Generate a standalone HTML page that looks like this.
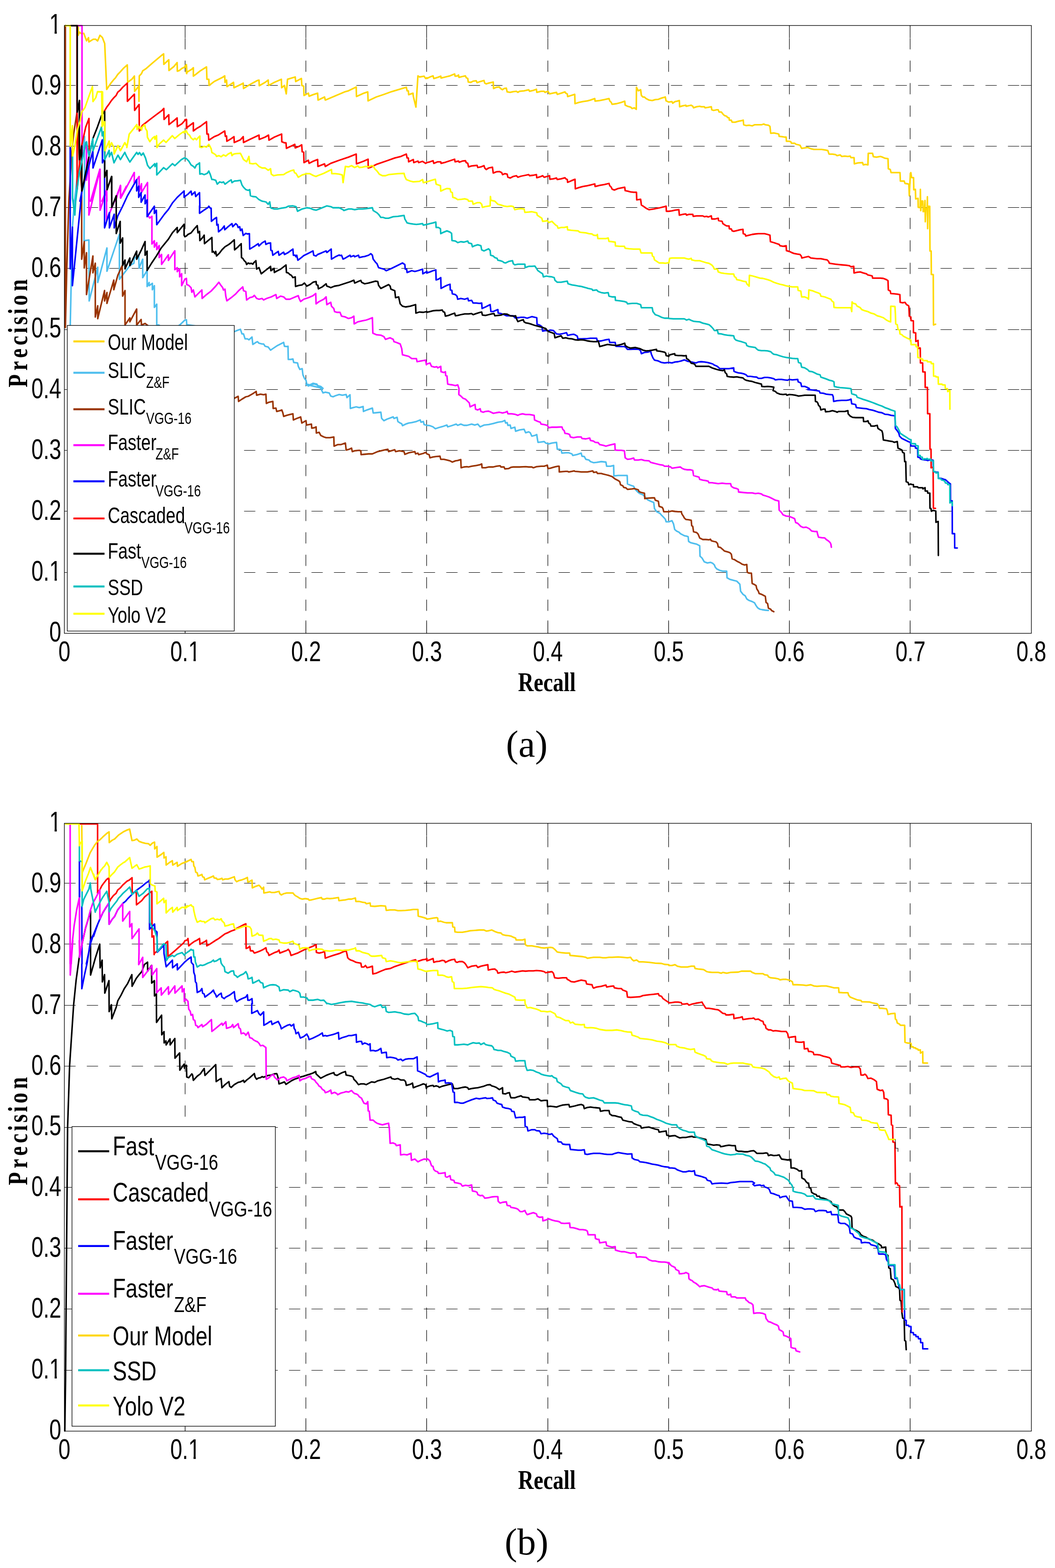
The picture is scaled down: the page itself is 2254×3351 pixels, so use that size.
<!DOCTYPE html>
<html><head><meta charset="utf-8"><title>Precision-Recall curves</title><style>html,body{margin:0;padding:0;background:#fff;}svg{display:block;}</style></head><body>
<svg xmlns="http://www.w3.org/2000/svg" width="2254" height="3351" viewBox="0 0 2254 3351">
<rect width="2254" height="3351" fill="#fff"/>
<defs><clipPath id="k1" clipPathUnits="userSpaceOnUse"><rect x="-500" y="-500" width="1000" height="495.1"/><rect x="15.1" y="-5.4" width="6.2" height="60"/><rect x="-500" y="-5.4" width="501.8" height="60"/></clipPath><clipPath id="k01" clipPathUnits="userSpaceOnUse"><rect x="-500" y="-500" width="1000" height="495.1"/><rect x="66.4" y="-5.4" width="6.2" height="60"/><rect x="-500" y="-5.4" width="553.1" height="60"/></clipPath></defs>
<path d="M395.5 1353.5V54.5M653.5 1353.5V54.5M911.5 1353.5V54.5M1170.5 1353.5V54.5M1428.5 1353.5V54.5M1686.5 1353.5V54.5M1944.5 1353.5V54.5" stroke="#000" stroke-width="1.15" stroke-dasharray="24 24" fill="none"/>
<path d="M137.5 1223.5H2203.5M137.5 1092.5H2203.5M137.5 962.5H2203.5M137.5 832.5H2203.5M137.5 704.5H2203.5M137.5 573.5H2203.5M137.5 443.5H2203.5M137.5 312.5H2203.5M137.5 182.5H2203.5" stroke="#000" stroke-width="1.15" stroke-dasharray="24 24" fill="none"/>
<path d="M395.5 1353.5v-27.5M395.5 54.5v26.5M653.5 1353.5v-27.5M653.5 54.5v26.5M911.5 1353.5v-27.5M911.5 54.5v26.5M1170.5 1353.5v-27.5M1170.5 54.5v26.5M1428.5 1353.5v-27.5M1428.5 54.5v26.5M1686.5 1353.5v-27.5M1686.5 54.5v26.5M1944.5 1353.5v-27.5M1944.5 54.5v26.5M137.5 1223.5h21M2203.5 1223.5h-22.5M137.5 1092.5h21M2203.5 1092.5h-22.5M137.5 962.5h21M2203.5 962.5h-22.5M137.5 832.5h21M2203.5 832.5h-22.5M137.5 704.5h21M2203.5 704.5h-22.5M137.5 573.5h21M2203.5 573.5h-22.5M137.5 443.5h21M2203.5 443.5h-22.5M137.5 312.5h21M2203.5 312.5h-22.5M137.5 182.5h21M2203.5 182.5h-22.5" stroke="#000" stroke-width="1.15" fill="none"/>
<clipPath id="c0"><rect x="135.5" y="51.5" width="2070.0" height="1304.0"/></clipPath>
<g clip-path="url(#c0)">
<path d="M395 141.4L398.3 138.1L398.3 156.2L401.6 152.9L409.8 148L413.1 144.7L413.1 162.8L419.7 157.9L428 151.3L441.2 143L442.1 169.4L446.1 169.4L446.8 182.6L457.6 174.3L474.1 166.1L480.1 162.1L480.7 176L484 171.1L485 185.2L493.9 179.3L498.9 176L499.9 187.5L517 179.3L519.6 177.6L520.3 189.2L533.5 180.9L550 172L553.3 171.1L553.9 183.2L566.5 176L573 171.1L573.7 182.6L586.2 176L601.1 169.4L601.7 187.5L607.7 182.6L611.6 200.7L614.3 169.4L630.7 164.5L631.7 174.3L643.9 167.8L644.9 182.6L648.9 184.2L649.5 204L658.8 199.1L660.4 205.7L668.7 202.4L678.6 199.1L679.5 213.9L693.4 207.3L695 213.9L706.6 209L737.9 195.8L744.5 194.1L761 185.9L761.6 206.3L777.5 199.1L785.7 196.4L786.4 215.6L803.9 207.3L820.3 201.7L836.8 195.8L856.6 189.8L868.1 186.5L869.8 194.1L872.4 194.1L873.1 202.4L882.3 199.1L883 205.7L888.6 228.8L892.9 162.1L896.2 164.5L906.1 162.8L909.4 167.8L912 166.1L912 167.8L918.6 164.5L925.2 162.1L926.8 167.8L935.1 165.4L941.7 162.8L942.3 166.8L951.6 164.5L961.5 162.1L971.3 157.9L972.3 162.8L977.9 162.1L979.6 160.2L980.6 165.4L987.8 163.5L994.4 162.1L996.1 166.1L999.4 167.8L1000.4 175.3L1006 176L1010.9 173.4L1017.5 172.7L1019.2 176.7L1025.8 174.3L1034 172L1035.6 177.6L1038.9 179.3L1043.9 177.6L1053.8 175.3L1054.4 189.2L1060.4 186.5L1067 185.9L1068.6 188.5L1073.6 191.8L1076.9 189.2L1081.8 188.5L1083.5 196.4L1090 197.4L1096.6 195.8L1103.2 195.1L1106.5 197.4L1109.8 195.1L1119.7 194.1L1129.6 191.8L1131.3 195.1L1139.5 193.1L1146.1 190.8L1146.8 197.4L1156 195.1L1162.6 195.1L1164.2 197.4L1170.8 195.1L1174.1 200.7L1180.7 199.1L1189 197.4L1190.6 201.7L1198.9 199.1L1207.1 196.4L1208.7 199.1L1212 200.7L1212.7 206.3L1220.3 204L1227.9 201.7L1228.5 221.5L1236.8 218.9L1245 217.2L1254.9 215.6L1261.5 213.9L1270.7 210.6L1271.4 216.2L1281.3 214.9L1291.2 212.9L1301.1 210.6L1302.7 215.6L1306 218.9L1307.7 222.8L1317.6 221.5L1327.4 218.9L1334.7 216.2L1335.7 224.8L1340.6 227.1L1347.2 228.8L1350.5 232L1355.5 230.4L1359.4 233.7L1359.8 186.5L1363.7 194.1L1368.7 191.8L1370.3 204L1373.6 207.3L1376.9 207.3L1380.2 210.6L1386.8 213.9L1393.4 214.9L1400 212.9L1406.6 212.3L1413.2 209.6L1421.4 207.3L1423.1 215.6L1429 218.2L1429 218.2L1435.6 217.2L1437.2 220.5L1442.2 217.2L1447.1 216.2L1451.4 214.9L1452.1 228.1L1458.7 226.1L1465.3 224.8L1465.9 227.1L1473.5 225.5L1476.8 224.8L1480.1 227.1L1481.8 230.4L1488.3 228.1L1494.9 227.1L1498.2 228.1L1504.8 228.1L1506.5 230.4L1513.1 229.4L1519.7 228.1L1520.7 234.7L1524.6 236L1531.2 234.7L1534.5 234.7L1536.2 239.3L1541.1 239.3L1544.4 243.6L1547.7 246.9L1552.6 248.5L1554.3 251.2L1557.6 251.8L1558.2 256.8L1562.5 256.8L1564.2 261.1L1570.8 261.1L1577.4 259.1L1584 257.8L1587.9 256.8L1588.9 266.7L1593.9 268.3L1600.5 267.7L1607 269L1612 266.7L1620.2 266.7L1626.8 266.7L1631.8 265L1635.1 266.7L1641.7 267.7L1645 270L1646.6 284.8L1653.2 284.1L1659.8 285.5L1663.8 286.5L1664.7 291.4L1671.3 292.1L1676.3 293L1679.6 293L1680.2 301.9L1686.2 301.9L1689.5 302.9L1691.1 306.2L1697.7 306.2L1701 308.5L1706 309.5L1709.3 310.5L1710.9 313.8L1712.6 317.1L1719.2 316.1L1725.7 315.1L1732.3 317.8L1738.9 319.4L1745.5 319.4L1755.4 319.4L1762 320.4L1768.6 321.7L1771.2 329.3L1778.5 329.3L1785.1 330.3L1788.4 332.6L1795 331L1798.3 334.3L1804.9 333.6L1811.5 334.3L1816.4 333.6L1818.1 336.9L1824.7 336.9L1825.3 350.1L1832.9 348.1L1842.8 347.5L1844.4 352.4L1849.4 351.4L1854.3 352.4L1855 327.7L1864.2 327.7L1865.9 334.9L1872.5 335.9L1880.7 334.3L1885.7 335.9L1890.6 338.2L1897.2 339.2L1897.9 360.6L1902.1 362.3L1903.8 368.9L1910.4 368.9L1917 368.9L1922.9 368.9L1923.6 387L1931.8 387L1933.5 392L1940.1 393L1941.7 393.6L1942.7 418.3L1945 370.5L1946 368.9L1947.7 379.6L1951.8 379.6L1952.3 405.7L1955.7 404.6L1956.4 425.1L1961.4 423.9L1961.8 443.2L1965.9 443.7L1966.4 404.6L1967.1 450.1L1969.3 429.6L1971.6 429.6L1972.3 452.3L1975 451.2L1976.2 428.5L1976.9 473.9L1978.4 445.5L1980.7 445.5L1981.4 420.5L1981.9 488.7L1983 441L1986.4 441L1986.9 536.5L1989.4 536.5L1989.8 586.5L1993.9 586.9L1994.4 694.5L1998.9 692.9M167.1 54.7L167.1 75.4L169.6 68.6L173.9 72L178.9 71.1L184.9 87.2L189.1 80.4L189.9 89.7L199.2 83.8L204.3 83.8L208.5 87.5L213.6 75.4L218.7 80.1L223.7 93.1L228 191.1L236.4 178.4L243.2 170L246.5 166.6L251.6 159L256.7 153.9L263.4 146.3L271.9 138.7L272.7 175.9L282 169.1L287.1 162.4L287.6 195.3L296.4 184.4L296.9 216.5L297.6 162.4L302.3 157.3L304.9 151.4L312.5 146.3L326 134.5L336.1 126.1L346.3 117.6L349.6 115.1L350 137.5L360.6 127.7L361 150.6L371.6 142.1L378.4 133.7L378.9 152.2L383.4 150.6L388.5 146.3L395.3 143L398.6 141.3L399 157.3" stroke="#FFD700" stroke-width="3.3" fill="none" stroke-linejoin="round" stroke-linecap="round"/>
<path d="M395 684L398.3 683.3L399 693.9L500.5 708.7L508.8 705.4L513.7 703.8L517 713.7L520.3 713.7L523.6 724.2L528.5 724.2L531.8 726.2L538.4 720.3L540.1 736.1L546.7 731.8L550 730.2L553.3 733.5L559.9 735.1L563.2 735.1L566.5 740L573 741.7L578 748.3L582.9 745L592.8 738.4L606 731.8L607.7 740L612.6 740.7L615.3 740L615.9 768.1L620.9 768.1L625.8 767.1L627.5 774.7L635.7 775.7L637.3 782.9L640.6 789.5L645.6 787.9L647.2 801L650.5 808.6L653.8 812.6L655.5 820.8L662.1 822.5L668.7 819.2L676.9 820.8L678.6 824.1L685.2 825.8L690.1 830.1L653.8 821.6L658.8 824.9L665.4 821.6L672 820.7L678.6 823.3L680.2 826.6L685.2 829.9L688.5 836.5L690.1 839.8L695 838.1L703.3 839.8L706.6 846.4L711.5 848L716.5 845.7L724.7 843.1L731.3 844.7L739.6 843.1L741.2 849.7L747.8 843.7L748.5 872.8L754.4 871.1L761 869.5L767.6 871.1L775.8 868.8L776.5 879.3L784.1 876.1L795.6 872.1L797.3 882.6L803.9 882L813.7 881L815.4 894.2L820.3 899.1L826.9 895.8L840.1 890.9L841.8 894.2L848.4 891.9L850 900.8L855 904.1L858.3 905.7L859.9 909.7L866.5 906.4L873.1 904.1L879.7 903.1L889.6 900.8L897.8 897.5L899.5 902.4L904.4 900.8L906.1 907.4L912 909L912 909L918.6 909.7L925.2 912.3L930.1 916.3L936.7 914L945 911.7L954.9 908.4L956.5 912.3L964.8 909.7L974.6 906.4L977.9 909L984.5 906.4L991.1 909L997.7 909L1007.6 906.4L1014.2 908.4L1020.8 906.4L1025.8 912.3L1034 908.4L1043.9 907.4L1053.8 905.1L1063.7 902.4L1073.6 900.8L1078.5 898.5L1080.2 904.1L1083.5 903.1L1085.1 909L1090 908.4L1091.7 915.6L1096.6 914L1099.9 913L1101.6 921.6L1109.8 918.9L1119.7 917.3L1123 924.9L1129.6 922.9L1132.9 924.9L1136.2 932.1L1142.8 930.5L1146.8 928.8L1147.7 935.4L1149.4 945.3L1156 944.6L1162.6 943.6L1165.9 946.9L1172.5 948.6L1179.1 946.9L1189 945.3L1190.6 960.1L1195.6 960.1L1198.9 961.8L1200.5 968.4L1208.7 967.7L1215.3 967.7L1221.9 970L1223.6 973.3L1231.8 971.7L1241.7 968.4L1243.4 975L1248.3 975.6L1251.6 981.6L1258.2 983.2L1261.5 986.5L1268.1 988.8L1274.7 988.2L1284.6 986.5L1294.5 987.5L1296.1 996.4L1304.4 996.4L1311 994.8L1311.6 1017.2L1320.9 1016.2L1330.7 1016.2L1340 1016.2L1340.6 1034.3L1347.2 1037L1353.8 1039.3L1357.1 1045.9L1363.7 1052.5L1367 1054.8L1373.6 1057.4L1376.9 1060.7L1383.5 1067.9L1390.1 1071.2L1396.7 1073.9L1398.3 1087.1L1403.3 1093.7L1409.9 1097L1413.2 1100.9L1416.5 1104.2L1421.4 1109.5L1423.1 1115.1L1429 1115.1L1429 1115.1L1435.6 1112.8L1438.9 1119.4L1441.5 1131.6L1445.5 1134.9L1450.4 1137.2L1453.7 1140.5L1458.7 1143.1L1462 1144.8L1466.9 1145.8L1470.2 1147.1L1471.2 1157L1475.2 1159.6L1481.8 1161.3L1488.3 1162.9L1493.3 1165.5L1494.9 1166.2L1495.6 1188.6L1499.9 1192.6L1504.8 1200.8L1511.4 1203.1L1518 1201.8L1523 1204.1L1526.3 1207.4L1527.9 1211.7L1531.2 1215.7L1537.8 1219L1544.4 1220.6L1552.6 1220.6L1553.3 1234.8L1559.2 1238.1L1567.5 1240.4L1574.1 1242L1580.7 1248.6L1582.3 1263.5L1587.3 1270.1L1592.2 1273.4L1595.5 1280L1600.5 1283.3L1607 1285.6L1612 1288.2L1615.3 1294.1L1618.6 1298.8L1623.5 1302L1628.5 1303L1635.1 1304L1641.7 1304.7M159.1 430L164.7 379.8L172.9 345.4L180.6 292L180.2 430M150 700L154.7 485.3L159.1 430M180.2 430L179.6 514.5L189.9 512.8L190.5 643.2L208.8 571.1L208.8 603.7L228.5 530L228.5 579.7L255.1 500.8L255.1 596.9L277.4 567.7L286 562.5L286.9 552.2L296.3 545.4L297.2 572.8L304.9 554L304.9 593.4L314.3 578L314.3 612.3L318.6 603.7L318.6 610.6L325.5 605.5L325.5 619.2L329.8 610.6L329.8 656.9L334.9 650L334.9 694.7L339.2 694.7L360 710M360 712L383.8 694.7L395 684" stroke="#4DBEEE" stroke-width="3.3" fill="none" stroke-linejoin="round" stroke-linecap="round"/>
<path d="M500.5 851.3L508.8 847L509.7 857.9L517 853L525.2 848L530.2 847L540.1 841.4L547.3 836.5L548.3 844.7L556.6 842.4L563.2 843.7L568.1 842.4L569.1 862.2L574.7 859.6L582.9 857.9L583.6 872.8L589.5 872.1L591.2 879.3L597.8 877.7L602.1 876.1L604.4 882.6L606 889.9L612.6 887.6L619.2 885.9L625.8 884.3L626.8 897.5L634 894.2L640.6 891.9L642.3 890.9L644.9 904.1L650.5 900.8L653.8 899.1L654.8 908.4L660.4 907.4L665.4 906.4L666 915L672 914L675.3 912.3L675.9 925.5L681.9 923.9L685.2 930.5L691.7 933.8L696.7 935.4L704.9 935.4L713.2 933.8L713.8 953.5L721.4 950.2L728 950.2L737.9 946.9L739.6 961.8L746.2 960.1L751.1 957.8L752.7 965.1L757.7 963.4L767.6 962.4L770.9 963.4L771.5 971.7L777.5 971L787.4 970L795.6 970L807.1 965.1L820.3 961.8L828.6 960.1L830.2 965.1L843.4 961.1L845.1 965.1L853.3 963.4L863.2 965.1L864.9 971L873.1 967.7L886.3 965.1L887.9 970L892.9 968.4L894.5 971.7L904.4 969L909.4 966.7L912 970L912 970L916.9 971.7L918.6 978.3L925.2 976.6L931.8 975.6L940 975L941.7 981.6L948.3 981.6L954.9 983.2L961.5 984.9L966.4 987.5L973 984.9L977.9 984.2L984.5 982.2L985.2 999.7L991.1 998L997.7 997.4L1001 998L1007.6 996.4L1017.5 994.8L1025.8 993.1L1029.1 991.5L1030 999.7L1037.3 999.7L1043.9 998L1053.8 998L1060.4 996.4L1068.6 995.4L1070.3 998L1076.9 998L1078.5 1002L1086.8 1001.3L1091.7 998.7L1096.6 998L1109.8 998L1123 997.4L1129.6 998L1136.2 998L1139.5 999.7L1146.1 997.4L1156 996.4L1162.6 996.4L1167.5 994.8L1169.2 994.1L1170.8 1001.3L1175.8 1000.7L1182.4 998.7L1187.3 997.4L1192.3 996.4L1194.6 996.4L1194.9 1008.6L1202.2 1007.9L1208.7 1007.3L1212 1007.3L1215.3 1008.6L1221.9 1007.3L1226.9 1006.3L1228.5 1007.3L1235.1 1007.9L1241.7 1008.6L1248.3 1008.6L1254.9 1008.6L1261.5 1007.3L1266.4 1006.3L1268.1 1009.6L1274.7 1008.6L1276.3 1011.9L1284.6 1011.9L1287.9 1012.9L1294.5 1014.5L1301.1 1016.2L1307.7 1018.5L1311 1021.1L1314.3 1023.8L1320.9 1027.1L1324.1 1029.4L1325.8 1036L1330.7 1038.3L1332.4 1041.6L1337.3 1042.6L1340.6 1045.9L1350.5 1044.9L1355.5 1044.2L1363.7 1046.8L1365.4 1050.8L1370.3 1052.5L1376.9 1054.1L1377.6 1065.6L1383.5 1064.7L1393.4 1064L1398.3 1064L1400 1068.9L1406.6 1071.2L1408.2 1082.1L1414.8 1084.4L1416.5 1087.1L1418.1 1093.7L1429 1093.7L1429 1093.7L1435.6 1092L1442.2 1093L1448.8 1093.7L1455.4 1093.7L1457 1098.6L1460.3 1103.6L1462 1106.9L1465.3 1110.2L1471.9 1110.8L1476.8 1111.8L1477.8 1123.3L1480.1 1125L1481.8 1136.5L1488.3 1138.2L1491.6 1141.5L1494.9 1149.7L1501.5 1153L1508.1 1153L1514.7 1153.7L1518 1152.4L1519.7 1155.7L1524.6 1157L1529.6 1158L1532.9 1161.3L1534.5 1168.8L1539.5 1170.2L1544.4 1174.4L1547.7 1177.7L1554.3 1179.4L1559.2 1181L1562.5 1184.3L1564.2 1194.2L1569.1 1195.9L1574.1 1199.2L1580.7 1202.5L1585.6 1205.8L1590.6 1207.4L1595.5 1206.4L1596.5 1222.9L1600.5 1224.9L1605.4 1224.9L1607 1247L1612 1249.3L1615.3 1251.3L1616.9 1258.5L1620.2 1263.5L1621.9 1268.4L1626.8 1270.1L1630.1 1271.7L1635.1 1274.4L1636.7 1287.5L1640 1289.9L1641.7 1299.7L1646.6 1302L1648.3 1304.7L1653.2 1307.3M139.6 54.8L139.6 266.2M147.1 430L153.5 324.7L157.4 286L164.4 241L169.4 341.1M139.7 54.5L139.7 700L142.7 574.6L147.1 430M169.4 341L174.5 403L174.5 554L180 516.2L180 572.8L184.8 540.2L184.8 629.5L198.5 547.1L198.5 583.1L203.6 562.5L203.6 677.5L208.8 653.5L208.8 681L223.4 620.9L223.4 643.2L228.5 625.2L228.5 648.4L243.1 598.6L243.1 619.2L251.7 588.3L261.1 567.7L262 632.9L267.1 620.9L267.1 694.7L277.4 679.3L277.4 687.8L292 660.4L292 694.7L301.5 682.7L302.3 694.7L310 691.2L400 760L500.5 851.3" stroke="#993300" stroke-width="3.3" fill="none" stroke-linejoin="round" stroke-linecap="round"/>
<path d="M395 596.6L398.3 595L399 608.2L403.2 609.8L408.2 614.8L409.8 624.6L413.1 619.7L416.4 634.5L423 627.9L431.3 619.7L431.9 637.8L441.2 629.6L451.1 622L460.9 611.5L467.5 603.2L470.8 608.2L475.8 614.8L477.4 619.7L480.7 618L482.4 632.9L484.7 642.8L493.9 636.2L503.8 627.9L510.4 620.7L518.6 613.1L520.3 621.3L525.2 623L526.9 641.1L533.5 636.2L540.1 634.5L543.4 631.2L548.3 637.8L553.3 639.5L559.9 637.8L563.2 641.1L569.8 637.8L579.6 634.5L589.5 629.6L591.2 637.8L599.4 632.9L606 634.5L611 639.5L619.2 639.5L629.1 635.2L637.3 631.9L639 637.8L642.3 644.4L648.9 639.5L658.8 636.2L668.7 631.9L674.6 627.3L675.3 649.4L681.9 644.4L691.7 639.5L696.7 634.5L698.3 651L706.6 646.1L708.2 654.3L713.2 659.3L714.8 665.9L719.8 667.5L726.4 667.5L729.7 675.7L737.9 677.4L744.5 680.7L751.1 679L756 675.7L756.7 692.2L764.3 687.9L774.2 685.6L782.4 684L787.4 682.3L795.6 679L796.6 712L803.9 715.3L813.7 716.3L820.3 719.6L823.6 725.2L833.5 721.9L840.1 725.2L841.8 730.2L846.7 731.8L855 735.1L858.3 745L859.9 758.2L866.5 759.8L873.1 761.5L879.7 766.4L889.6 766.4L891.2 773L899.5 771.4L909.4 769.7L911 779.6L912 778L918.6 775.7L921.9 782.9L928.5 784.6L933.4 783.6L935.1 786.2L941.7 782.9L942.3 794.4L948.3 796.1L951.6 794.4L952.2 802.7L954.9 803.4L956.5 820.8L961.5 821.8L966.4 822.5L973 824.1L977.9 822.5L979.6 827.4L980.6 830.1L980.3 843.1L984.5 846.4L989.5 851.3L994.4 853L999.4 857.9L1002.7 861.2L1004.3 869.5L1010.9 866.2L1014.9 864.5L1015.9 874.4L1020.8 876.1L1025.8 873.4L1027.4 879.3L1032.3 881L1037.3 879.3L1043.9 878.7L1047.2 880L1053.8 883.3L1060.4 882L1067 881L1073.6 882.6L1080.2 881L1083.5 879.3L1085.1 884.3L1093.3 884.3L1099.9 885.3L1106.5 887.6L1109.8 885.9L1116.4 884.3L1123 885.9L1131.3 885.9L1141.2 887.6L1142.1 897.5L1149.4 900.8L1154.3 902.4L1156 906.4L1162.6 907.4L1169.2 909L1172.5 914L1179.1 913L1189 913L1200.5 912.3L1202.2 917.3L1205.5 920.6L1207.1 926.2L1213.7 927.2L1217 928.8L1218.6 933.8L1225.2 935.4L1233.5 933.8L1241.7 933.8L1243.4 937.1L1251.6 938L1259.9 936.1L1261.5 941.3L1268.1 942.7L1271.4 945.3L1278 946L1281.3 950.2L1289.5 951.9L1294.5 953.5L1302.7 951.2L1313.6 948.6L1314.3 961.8L1320.9 962.4L1327.4 962.4L1334 963.4L1335.7 978.3L1340.6 981.6L1347.2 980.9L1353.8 978.9L1355.5 983.2L1363.7 983.2L1370.3 982.2L1376.9 984.2L1386.8 984.9L1390.1 988.2L1396.7 989.8L1403.3 991.5L1409.9 993.1L1416.5 994.1L1419.8 996.4L1429 996.4L1429 998L1432.3 997.4L1435.6 1000.7L1442.2 999.7L1448.8 998.7L1453.7 998L1457 1000.7L1462 1003L1468.6 1004L1475.2 1004L1480.1 1005.3L1481.8 1016.2L1486.7 1017.8L1493.3 1019.5L1494.9 1024.4L1501.5 1026.1L1508.1 1027.1L1513.1 1028.4L1514.7 1031.7L1521.3 1031.7L1527.9 1032.7L1534.5 1033.7L1542.8 1032.7L1551 1033.7L1560.9 1033.7L1562.5 1039.3L1567.5 1042.6L1574.1 1044.2L1577.4 1045.9L1578 1051.5L1587.3 1052.5L1597.2 1053.4L1607 1053.4L1613.6 1054.8L1620.2 1054.1L1626.8 1055.7L1630.1 1058.1L1636.7 1060L1643.3 1062.3L1649.9 1065.6L1656.5 1068.9L1663.8 1070.6L1664.7 1090.4L1669.7 1095.3L1673 1100.3L1679.6 1102.9L1686.2 1103.6L1692.8 1106.2L1697.7 1108.5L1700 1116.7L1704.3 1118.4L1707.6 1121.7L1710.9 1125L1715.9 1127.3L1722.5 1126.6L1729 1129.9L1732.3 1133.2L1734 1134.9L1740.6 1135.9L1745.5 1135.9L1747.2 1143.1L1748.8 1148.1L1755.4 1149.1L1762 1149.7L1765.3 1153L1770.3 1156.3L1773.6 1159.6L1775.2 1162.9L1776.2 1169.5M166.8 54.8L175.2 54.8L175.2 330M175.2 230L175.2 341.9L184.9 303.2L184.9 385L190.1 337.6L190.5 430M193.5 430L213.3 361.7L213.8 430M217.7 430L228 405.6L228.4 430M246.9 430L257.3 396.2L257.3 422.9L270 397.9M189.9 337L189.9 459.6L213.9 361.8L213.9 449.3L227.7 406.4L227.7 471.6L257.7 397L257.7 423.6L267.1 406.4L286.9 368.6L286.9 391L297.2 377.2L297.2 409.8L302.3 392.7L302.3 411.5L315.2 390.1L315.2 459.6L320 466L324.6 462.2L324.6 521.4L329.8 514.5L329.8 528.2L334.9 518.8L334.9 533.4L340.1 524.8L340.1 550.5L345.2 543.7L345.2 565.1L359.8 544.5L359.8 556.5L373.5 536L373.5 576.3L378.7 572L378.7 580.6L383.8 574.6L383.8 591.7L388.1 584.9L388.1 610.6L395 596.6" stroke="#FF00FF" stroke-width="3.3" fill="none" stroke-linejoin="round" stroke-linecap="round"/>
<path d="M395 420L401.6 415L408.2 408.4L409.8 416.7L416.4 410.1L418.1 420L426.3 411.7L427 444.1L426.3 440L426.3 455.8L434.6 449.9L444.5 443.3L446.1 440.7L449.4 444.9L451.1 444.9L451.7 473L457.6 468L462.6 464.7L463.3 481.2L465.9 479.6L466.9 495.4L474.1 489.5L479.1 482.9L480.1 491.1L487.3 484.5L495.6 477.9L497.2 484.5L503.8 477.9L507.1 481.2L508.8 486.2L512.1 484.5L513.7 492.8L517 489.5L519.6 503.3L525.2 498.7L528.5 500L532.8 499.3L533.5 532.3L543.4 526.4L551.6 520.8L553.3 525.7L559.9 519.1L566.5 515.2L568.1 522.4L573 519.8L578 519.1L578.7 535L581.3 535.6L582.9 545.5L589.5 540.6L594.5 537.3L596.1 545.5L601.1 542.2L606 538.9L607.7 543.9L614.3 540.6L625.8 532.3L626.8 545.5L630.7 545.5L632.4 548.8L634 545.5L636.4 556.1L643.9 550.5L648.9 546.2L657.1 542.2L668.7 536.3L670.3 545.5L675.3 547.2L678.6 543.9L686.8 540.6L696.7 536.3L698.3 539.6L707.6 532.3L708.2 553.8L716.5 548.8L724.7 544.9L726.4 546.2L729.7 545.5L733 553.8L737.9 551.4L747.8 545.5L749.4 548.8L756 546.2L757.7 548.8L765.9 545.5L767.6 550.5L774.2 548.8L779.1 548.1L787.4 545.5L792.3 542.2L795.6 545.5L797.3 553.8L802.2 560.3L805.5 563.6L808.8 571.9L813.7 573.5L820.3 575.2L825.3 578.5L836.8 573.5L850 566.9L859.9 562L864.9 565.3L865.8 575.2L868.8 575.2L869.8 582.4L879.7 578.5L886.3 580.1L892.9 578.5L902.8 575.2L903.4 585.1L909.4 581.8L912 580.1L912 583.4L918.6 581.1L925.2 578.5L931.1 576.8L931.8 598.3L936.7 596.6L941.7 593.3L942.3 616.4L948.3 613.1L954.9 609.8L961.5 607.5L962.1 619.7L965.4 620.7L966.4 627.9L973 629.6L976.3 632.9L977.9 639.5L984.5 637.8L992.8 639.5L999.4 637.2L1001 642.8L1007.6 641.8L1010.9 647.7L1017.5 647.7L1024.1 648.4L1029.1 647.7L1030 659.3L1037.3 656L1047.2 651L1048.8 665.9L1053.8 665.9L1057.1 664.2L1063.7 661.6L1064.3 669.2L1070.3 670.1L1076.9 672.5L1081.8 674.8L1090 674.8L1096.6 674.8L1099.9 679L1106.5 679L1113.1 678.1L1119.7 678.1L1126.3 680L1136.2 676.7L1146.8 679L1147.4 693.2L1152.7 694.5L1157.6 697.8L1159.3 707.7L1165.9 706.4L1170.8 707.1L1175.8 705.4L1182.4 706.4L1189 713.7L1195.6 714.3L1202.2 713L1210.4 711L1212.7 717L1218.6 715.3L1225.2 714.3L1228.5 715.3L1233.5 718.6L1234.5 724.2L1241.7 724.2L1254.9 723.6L1261.5 722.9L1268.1 722.9L1274.7 722.9L1276.3 729.5L1284.6 728.5L1294.5 726.2L1301.1 725.2L1302.7 731.8L1307.7 731.8L1314.3 731.8L1315.9 740L1327.4 740.7L1334 740.7L1337.3 742.7L1340.6 746.6L1347.2 746.6L1357.1 746L1365.4 746.6L1368.7 749.9L1370.3 755.9L1376.9 753.2L1383.5 752.6L1390.1 750.6L1391.7 757.2L1395 764.8L1398.3 769.7L1406.6 771.4L1413.2 774.7L1419.8 775.7L1429 774.7L1429 774.7L1435.6 775.7L1442.2 773.7L1448.8 773L1455.4 771.4L1462 769.1L1465.3 770.4L1470.2 772.4L1475.2 773L1481.8 774.7L1486.7 775.7L1491.6 773.7L1498.2 773L1504.8 773.7L1511.4 774.7L1518 776.3L1523 778L1526.3 780.3L1531.2 782.2L1534.5 784.6L1537.8 787.9L1547.7 787.9L1557.6 787.9L1567.5 786.2L1568.1 793.5L1572.4 795.4L1577.4 796.8L1584 797.7L1590.6 799.4L1593.9 801L1597.2 804.3L1603.8 804.3L1610.3 805.3L1616.9 806L1620.2 808.6L1626.8 808.6L1633.4 806.6L1640 806.6L1646.6 807.6L1653.2 809.3L1656.5 811.9L1663.1 810.9L1669.7 810.9L1676.3 811.9L1682.9 812.6L1686.2 810.9L1692.8 811.9L1704.3 810.9L1705.3 815.9L1710.9 818.5L1712.6 825.8L1719.2 825.8L1725.7 828.4L1729 830.1L1725.7 832.5L1732.3 833.2L1738.9 833.8L1745.5 834.8L1750.5 835.8L1752.1 839.8L1758.7 840.4L1765.3 842.4L1771.9 843.1L1778.5 843.7L1780.2 848L1781.1 857.9L1788.4 856.3L1798.3 855.6L1808.2 855.6L1814.8 854.6L1818.1 853L1819.7 862.9L1828 864.5L1829.6 871.1L1837.9 872.1L1844.4 872.8L1851 873.4L1857.6 875.4L1864.2 876.7L1870.8 878.7L1877.4 881L1884 882L1890.6 885.3L1897.2 885.9L1903.8 887.6L1912 888.6L1913 915.6L1917 920.6L1920.3 925.5L1921.9 932.1L1926.9 937.1L1933.5 940.3L1940.1 943.6L1945 945.3L1946 951.9L1945.7 953L1955.3 953.3L1955.9 957.5L1960.4 958.1L1961 977.2L1965.5 977.9L1966.1 980.4L1970.6 982.3L1978.3 983L1982.1 984.3L1988.5 982.3L1993.6 983.6L1994.2 1007.9L1999.9 1009.1L2004.4 1009.1L2004.7 1021.9L2011.4 1022.5L2016.5 1024.4L2019.7 1025.1L2024.2 1028.9L2029.3 1033.4L2030.6 1034L2030.8 1070.4L2034.4 1070.4L2034.6 1140.5L2039.5 1140.5L2039.7 1171.1L2045.2 1171.1M150 311.9L150 330M150.1 312.7L150.1 430M170.7 430L175 408.2M150 330L150 574.6L154.7 485.3L154.7 610.6L175 408.2L198.5 322.3L198.7 359.1L218.5 298.9L218.9 348L221.1 342L223.4 342.9L223.4 487L233.7 454.4L233.7 487L244 457.9L244 487L251.7 461.3L262 440.7L272.3 418.4L292 384.1L292 408.1L296.3 397.8L296.3 421.8L301.5 411.5L301.5 432.1L310 416.7L310 435.6L314.3 427L314.3 463L329.8 440.7L329.8 456.2L334 449.3L334.9 480.2L351.2 457.9L359.8 447.6L368.4 433.8L378.7 421.8L393.3 408.1L393.3 421.8L395 420" stroke="#0000FF" stroke-width="3.3" fill="none" stroke-linejoin="round" stroke-linecap="round"/>
<path d="M395 255.8L398.3 255.1L398.3 273.3L413.1 262.4L413.1 279.9L419.7 274.9L428 270L441.2 260.1L442.1 286.5L445.1 286.5L446.1 299.6L457.6 292.1L465.9 288.8L480.1 279.9L481.4 291.4L484 290.7L484.7 301.9L493.9 296.3L499.9 292.1L500.5 304.6L513.7 298.7L519.6 292.1L520.3 304.6L533.5 298L553.3 288.8L553.9 298L566.5 293L573.7 288.8L574.7 299.6L586.2 293L601.7 286.5L602.1 302.9L607.7 305.2L611 305.2L612 317.1L625.8 310.5L629.8 308.5L630.7 316.1L639 312.8L644.6 309.5L645.6 324.4L648.9 325L649.5 347.5L658.8 342.5L660.4 349.1L668.7 344.8L678.6 340.9L679.2 355.7L693.4 350.1L695 355.7L706.6 349.1L724.7 342.5L744.5 335.9L761 329.3L761.6 350.1L777.5 344.2L786.4 340.2L786.7 359L790.7 358L803.9 351.4L826.9 343.5L843.4 337.6L856.6 334.3L868.1 329.3L869.8 337.6L872.4 337.6L873.1 345.8L883 340.9L884 347.5L892.9 344.2L894.5 347.5L902.8 344.8L909.4 349.1L912 347.5L912 347.5L918.6 345.8L925.2 343.5L926.8 349.1L935.1 345.8L941.7 345.8L942.3 349.1L951.6 346.8L961.5 343.5L971.3 340.2L972.3 345.8L979.6 344.2L981.2 346.8L987.8 344.2L994.4 343.5L996.1 347.5L999.4 349.1L1001 356.7L1007.6 354.7L1019.2 353.4L1020.8 358L1027.4 356.7L1034 354L1035.6 359L1038.9 362.3L1043.9 359L1052.1 357.3L1053.8 369.9L1060.4 367.2L1067 366.6L1071.9 368.9L1073.6 373.2L1078.5 371.2L1083.5 372.2L1085.1 378.8L1090 380.4L1096.6 377.1L1103.2 375.5L1106.5 378.8L1113.1 376.5L1123 374.5L1129.6 373.2L1131.3 375.5L1139.5 374.5L1146.1 373.2L1146.8 379.8L1156 377.1L1159.3 375.5L1162.6 378.8L1170.8 376.5L1174.1 375.5L1174.8 383.1L1182.4 382.1L1189 380.4L1190.6 383.7L1198.9 382.1L1207.1 379.8L1208.7 382.1L1212 383.7L1212.7 389.7L1220.3 386.4L1228.5 383.1L1229.2 403.5L1236.8 400.9L1245 398.6L1254.9 396.9L1261.5 395.3L1270.7 393L1271.4 398.6L1281.3 396.2L1291.2 394.3L1301.1 392L1302.7 396.9L1306 400.2L1307.7 404.2L1312.6 406.1L1320.9 402.8L1334.7 400.2L1335.7 407.5L1340.6 408.4L1347.2 410.1L1353.8 410.8L1359.8 410.8L1360.4 427.2L1368.7 425.9L1370.3 438.1L1375.3 441.4L1380.2 444.9L1386.8 448.2L1396.7 446.6L1409.9 444L1419.8 441.6L1423.1 440.7L1423.7 451.5L1429 451.5L1429 451.5L1435.6 450.6L1442.2 449.2L1450.4 448.2L1451.4 459.8L1458.7 458.1L1465.3 457.1L1466.9 459.8L1471.9 458.1L1480.1 458.1L1481.1 462.4L1488.3 461.4L1494.9 461.4L1501.5 461.4L1504.8 463.1L1509.8 462.4L1513.1 463.7L1519.7 461.4L1520.7 468L1527.9 468L1534.5 466.4L1535.2 471.3L1542.8 473L1544.4 477.9L1549.3 481.2L1552.6 482.9L1557.6 482.9L1558.2 488.8L1562.5 489.5L1564.2 493.4L1567.5 494.4L1574.1 492.8L1580.7 491.1L1587.3 490.1L1587.9 499.3L1592.2 501L1593.2 504.3L1600.5 502.6L1607 501L1613.6 500L1620.2 499.3L1626.8 499.3L1633.4 499.3L1640 501L1645 502.6L1646 516.5L1653.2 518.5L1659.8 520.8L1664.7 522.4L1666.4 525.1L1673 526.4L1679.6 525.1L1680.2 535.6L1686.2 537.3L1691.1 539.6L1696.1 541.6L1702.7 542.9L1709.3 543.9L1711.9 547.2L1713.2 551.4L1720.8 549.5L1727.4 548.1L1732.3 551.4L1738.9 552.1L1745.5 552.8L1753.8 552.8L1762 554.7L1767 555.4L1770.3 558.7L1771.9 562.7L1778.5 563.6L1785.1 564.6L1791.7 565.3L1798.3 566L1808.2 566.9L1814.8 567.9L1818.1 570.2L1824 569.2L1824.7 583.4L1831.3 581.8L1837.9 581.1L1844.4 583.4L1851 585.1L1854.3 587.7L1860.9 589L1863.6 590L1864.2 594.3L1870.8 594.3L1880.7 594.3L1887.3 595L1893.9 597.6L1897.2 599.9L1897.9 619.7L1902.1 622L1903.1 627.3L1910.4 627.9L1917 628.6L1922.6 629.6L1923.2 646.1L1928.5 647.1L1933.5 646.1L1936.8 651L1940.1 652.7L1941.7 654.3L1942.7 675.7L1946 677.4L1946.4 685.2L1951.4 685.7L1951.6 710.8L1956.4 711.4L1956.6 729.8L1959.2 728.7L1961.4 727.5L1962 744.8L1965.9 743.7L1966.1 744.5L1966.5 775.7L1971.2 775.7L1971.6 794.8L1976.4 794.8L1976.7 828L1981.5 828L1981.8 884.1L1986.6 884.1L1986.9 960L1989.1 960L1989.4 999.9L1989.1 998.9L1993.6 998.9L1994.2 1086.3L1998.7 1086.3M151.8 54.6L164.4 54.6L164.4 242.2M164.7 230L164.7 404.8L170.3 343.6L174.6 310.1L183.2 271.3L190.1 253.2L190.5 321.3M222.9 237.6L228 229.1L233 222.4L238.1 214.8L243.2 208.9L248.2 203.8L251.6 197L256.7 192.8L261.8 186.9L271.9 177.6L272.2 216.5L285.4 202.9L287.1 201.3L287.6 235.9L297.2 223.2L297.6 279.8L299.8 277.3L304 268L310.8 262.9L319.2 256.2L332.7 246L346.3 235.9L350 231.7L350.5 255.3L360.6 245.2L361 266.3L371.6 257.9L378.4 252L378.9 270.6L388.5 264.6L395.3 257L398.6 256.2L399 274.8" stroke="#FF0000" stroke-width="3.3" fill="none" stroke-linejoin="round" stroke-linecap="round"/>
<path d="M395 505.9L398.3 504.3L401.6 501L408.2 497.7L414.8 489.5L421.4 482.2L423 497.7L426.3 494.4L427 514.2L432.9 507.6L436.2 502.6L436.9 520.8L444.5 514.2L452.7 507.6L453.4 538.9L456 537.3L459.3 542.2L460.9 537.3L462.6 547.2L469.2 540.6L474.1 534L480.7 527.4L489 522.4L493.9 518.5L500.5 512.5L501.2 534L508.8 527.4L515.3 520.8L516 550.5L518.6 552.1L521.9 557.1L525.2 560.3L526.9 565.3L530.2 562L533.5 563.6L536.8 562.7L540.1 564.6L541.7 562L546.7 557.1L548.3 575.2L553.3 571.9L558.2 585.1L566.5 578.5L573 573.5L578 569.2L578.7 578.5L582.9 575.8L585.6 573.5L586.2 582.4L592.8 578.5L599.4 575.2L606 570.2L611 566.3L612 582.4L615.9 583.4L619.2 586.7L622.5 588.4L625.8 593.3L630.7 591.7L631.4 612.1L639 609.8L645.6 608.8L650.5 604.9L655.5 611.5L662.1 608.2L668.7 603.2L675.3 601.6L675.9 608.2L679.2 609.8L680.2 617.4L688.5 613.1L696.7 606.5L698.3 611.5L703.3 613.1L706.6 614.8L714.8 611.5L724.7 609.8L734.6 606.5L747.8 602.2L756 598.9L757.7 604.9L770.9 599.3L772.5 603.2L779.1 606.5L787.4 604.9L802.2 600.9L807.1 601.6L808.8 609.8L813.7 616.4L823.6 611.5L830.2 608.2L833.5 611.5L835.2 618L843.4 621.3L845.1 636.2L851.7 634.5L855 649.4L859.9 654.3L866.5 656L876.4 654.3L887.9 651L888.6 669.2L896.2 666.8L904.4 667.5L912 665.9L912 667.5L918.6 665.9L925.2 664.2L931.8 663.5L938.4 663.5L945 662.6L946.6 665.9L949.9 667.5L951.6 675.7L958.2 674.1L964.8 671.5L971.3 669.2L973 674.8L977.9 674.1L984.5 672.5L992.8 670.8L1001 670.8L1007.6 670.1L1010.9 672.5L1017.5 670.1L1025.8 667.5L1029.1 666.8L1030.7 673.4L1037.3 674.1L1043.9 672.5L1050.5 670.8L1055.4 670.1L1057.1 674.8L1063.7 674.1L1070.3 673.4L1076.9 670.8L1083.5 671.5L1090 674.8L1096.6 675.7L1101.6 674.8L1103.2 680.7L1106.5 687.3L1113.1 684.7L1118.1 683.3L1119.7 687.9L1123 689.9L1129.6 691.2L1136.2 693.2L1142.8 695.5L1149.4 697.2L1156 698.8L1162.6 701.1L1165.9 702.1L1169.2 706.4L1172.5 708.7L1179.1 711L1184 713L1185.7 721.9L1192.3 719.6L1198.9 717.6L1202.2 722.9L1208.7 721.9L1215.3 723.6L1221.9 724.2L1228.5 726.2L1235.1 726.9L1241.7 726.2L1248.3 726.9L1254.9 728.5L1261.5 729.5L1268.1 730.2L1274.7 730.2L1278 728.5L1279.6 733.5L1281.3 740.7L1289.5 738.4L1297.8 736.1L1307.7 737.4L1317.6 738.4L1327.4 736.1L1334.7 733.5L1335.7 738.4L1340.6 741.7L1347.2 744L1357.1 742.7L1367 745L1373.6 748.3L1380.2 749.9L1386.8 749.3L1393.4 748.3L1402.6 746.6L1403.3 749.9L1409.9 750.6L1419.8 752.6L1422.4 754.9L1423.1 759.8L1429 761.5L1429 759.2L1435.6 757.2L1441.5 755.9L1442.2 759.2L1448.8 759.8L1455.4 759.8L1462 760.5L1465.9 759.8L1466.9 766.4L1470.2 768.1L1473.5 771.4L1476.8 776.3L1481.8 777L1485.1 779.6L1486.7 782.9L1493.3 782.9L1499.9 782.9L1508.1 782.9L1514.7 782.9L1518 784.6L1521.3 786.2L1526.3 787.9L1531.2 789.5L1537.8 791.2L1544.4 792.1L1547.7 790.2L1549.3 796.1L1552.6 799.4L1553.6 804.3L1559.2 805.3L1567.5 806L1574.1 805.3L1580.7 806.6L1587.3 807.6L1590.6 810.9L1593.9 812.6L1600.5 814.2L1607 815.2L1613.6 817.5L1620.2 819.2L1626.8 820.8L1627.5 825.8L1633.4 826.4L1640 825.8L1646.6 826.4L1653.2 827.4L1651.6 834.8L1656.5 836.5L1659.8 839.8L1666.4 842.4L1673 843.1L1679.6 842.4L1681.2 844.7L1686.2 843.1L1692.8 843.7L1699.4 844.7L1706 846.4L1712.6 845.7L1719.2 844.7L1725.7 844.7L1735.6 844.7L1741.6 844.7L1742.2 857.9L1745.5 858.9L1747.2 861.2L1748.8 866.2L1752.1 869.5L1753.8 876.1L1758.7 874.4L1762.7 874.4L1763.7 880L1771.9 879.3L1778.5 877.7L1785.1 879.3L1788.4 881L1791.7 879.3L1798.3 879.3L1804.9 879.3L1811.5 877.7L1812.1 884.3L1816.4 889.2L1821.4 891.9L1828 892.5L1837.9 892.5L1844.4 892.5L1845.1 900.8L1851 900.8L1854.3 899.1L1856 904.1L1859.3 906.4L1860.9 910.7L1867.5 910.7L1874.1 909L1875.8 915.6L1880.7 918.9L1884 920.6L1885.7 925.5L1887.3 940.3L1893.9 941.3L1900.5 942.7L1907.1 943.6L1910.4 945.3L1917 943.6L1918.6 957.8L1923.6 960.1L1926.9 961.8L1928.5 966.7L1931.8 968.4L1932.8 986.5L1935.1 986.5L1936.1 1029.4L1940.1 1031L1941.7 1036L1946 1034.3L1947.7 1035.3L1951.5 1035.7L1951.7 1040.4L1960.4 1040.4L1961.7 1042.3L1971.2 1042.3L1971.9 1044.8L1976.4 1042.3L1976.7 1049.3L1981.5 1049.3L1982.1 1053.8L1986.6 1053.8L1986.9 1086.3L1989.1 1086.9L1989.7 1092.7L1993.6 1090.8L1999.3 1092L1999.7 1116.3L2004.4 1114.4L2004.8 1187.1M151.8 54.8L165 54.8L165 239.8L169.8 214.6L170.1 248.2M169.4 230L169.9 341.1L174.6 311.8L175 408.2L181.5 376.4L190.1 335L198.7 295.4L208.2 271.3L216.8 247.2L223.7 238.2L223.7 378.9L228.4 364.3L228.8 405.6L238.3 377.2L238.7 430M223.7 378.9L228.5 365.2L228.5 404.7L238.8 377.2L238.8 443.3L248.3 418.4L248.3 499.1L256.8 473.3L256.8 519.6L262 508.5L262 567.7L267.1 555.7L267.1 574.6L277.4 551.4L277.4 567.7L292 536.8L292 554L302.3 533.4L310 516.2L310 545.4L314.3 536.8L314.3 578L323.8 562.5L334.1 547.1L344.4 530L359.8 511.1L368.4 497.3L378.7 486.2L378.7 497.3L393.3 479.3L393.3 502.5L395 505.9" stroke="#000000" stroke-width="3.3" fill="none" stroke-linejoin="round" stroke-linecap="round"/>
<path d="M395 337.6L398.3 339.2L403.2 344.2L408.2 352.4L413.1 355.7L416.4 359L419.7 352.4L423 350.7L426.3 348.1L427 372.2L431.3 371.2L436.2 373.2L442.8 370.5L446.1 365.6L449.4 373.2L452.7 383.7L456 383.7L460.9 385.4L464.2 393.6L469.2 388.7L474.1 390.3L477.4 388.7L480.7 393.6L487.3 388.7L493.9 384.4L495.6 390.3L500.5 387L507.1 386.4L513.7 385.4L517 395.3L520.3 400.2L525.2 405.2L530.2 406.8L533.5 405.2L535.1 418.3L540.1 420L546.7 420.6L553.3 426.6L559.9 429.9L568.1 431.5L573 436.5L576.3 431.5L578 443.1L579.6 444.9L586.2 446.6L592.8 446.6L601.1 444.9L611 443.3L615.9 440.7L625.8 440L632.4 441.6L635.7 451.5L645.6 446.6L655.5 444L662.1 444.9L670.3 448.2L675.3 449.2L681.9 446.6L698.3 440L706.6 441.6L711.5 444L724.7 444L733 448.2L734.6 449.9L744.5 446.6L751.1 446.6L757.7 448.2L765.9 446.6L774.2 446.6L782.4 445.9L795.6 444L797.3 449.9L805.5 454.8L808.8 458.1L813.7 464.7L818.7 464.7L823.6 466.4L830.2 466.4L840.1 463.1L850 462.4L863.2 460.4L864.9 468L869.8 476.3L876.4 477.9L883 478.9L889.6 479.6L896.2 478.9L902.8 477.9L904.4 481.2L912 479.6L912 479.6L918.6 477.9L925.2 476.3L931.1 474.6L931.8 486.2L936.7 486.2L941 488.8L941.7 499.3L948.3 496.1L954.9 493.4L961.5 496.1L964.8 498.7L965.7 514.2L973 515.2L977.9 518.5L984.5 516.5L991.1 517.5L999.4 515.2L1001 519.1L1007.6 520.8L1009.3 527.4L1014.2 525.1L1020.8 523.1L1027.4 525.1L1029.1 534L1034 536.3L1038.9 534L1043.9 531.7L1047.2 535.6L1048.2 545.5L1053.8 547.2L1057.1 550.5L1062 552.1L1063.7 556.1L1068.6 557.1L1073.6 558.7L1076.9 561.3L1080.2 562L1086.8 558.7L1095 557.1L1096.6 563.6L1099.9 566L1106.5 564.6L1121.4 564.6L1122 571.9L1129.6 569.2L1136.2 569.2L1142.8 568.6L1146.1 573.5L1149.4 578.5L1154.3 581.8L1159.3 585.1L1160.9 591.7L1167.5 590L1172.5 591L1179.1 591.7L1184 593.3L1185.7 598.9L1190.6 603.2L1198.9 603.2L1207.1 601.6L1212 600.9L1213.7 606.5L1221.9 608.8L1228.5 609.8L1236.8 611.5L1241.7 612.1L1251.6 614.8L1256.6 616.4L1264.8 618L1266.4 620.7L1274.7 619.7L1278 623L1284.6 625.3L1291.2 626.3L1299.4 625.3L1301.1 632.9L1307.7 634.5L1314.3 634.5L1314.9 641.8L1324.1 642.8L1334 644.4L1339 646.1L1340.6 649.4L1350.5 648.4L1360.4 648.4L1368.7 651L1370.3 657.6L1380.2 657.6L1393.4 657.6L1395 665.9L1400 672.5L1406.6 674.8L1413.2 678.1L1419.8 680L1429 680L1429 680.7L1438.9 681.4L1448.8 681.4L1462 681.4L1466.9 684L1471.9 682.3L1476.8 684.7L1481.8 686.6L1488.3 687.3L1494.9 687.9L1501.5 690.6L1508.1 692.2L1514.7 693.9L1518 696.5L1521.3 699.8L1524.6 703.8L1526.3 706.4L1532.9 706.4L1534.5 713L1541.1 713.7L1547.7 715.3L1554.3 716.3L1560.9 717L1567.5 717.6L1569.1 723.6L1572.4 726.9L1577.4 728.5L1584 730.2L1588.9 731.8L1593.9 733.5L1595.5 738.4L1600.5 740.7L1607 741.7L1613.6 742.7L1616.9 746L1620.2 748.3L1626.8 749.3L1633.4 749.3L1640 749.9L1646.6 751.6L1649.9 754.9L1653.2 757.2L1659.8 758.2L1666.4 760.5L1673 762.5L1679.6 763.8L1686.2 764.8L1692.8 765.8L1699.4 766.4L1704.3 766.4L1706 774.7L1710.9 776.3L1712.6 784.6L1719.2 786.2L1725.7 790.2L1729 793.5L1735.6 794.4L1740.6 796.8L1745.5 799.4L1752.1 801L1753.8 806L1758.7 807.6L1765.3 809.9L1771.9 812.6L1778.5 814.2L1781.8 815.9L1782.5 825.8L1788.4 827.4L1795 828.4L1804.9 829.1L1814.8 830.1L1818.1 830.6L1819.7 841.4L1824.7 843.1L1829.6 844.7L1831.3 849L1837.9 851.3L1844.4 853.6L1851 855.6L1857.6 857.9L1864.2 860.2L1870.8 862.9L1877.4 865.5L1884 867.8L1890.6 871.1L1897.2 873.4L1903.8 876.1L1912 878.7L1913 909L1917 913L1920.3 918.9L1923.6 926.2L1930.2 930.5L1936.8 934.7L1941.7 938L1946 940.3L1946.4 939.6L1946.6 947.9L1955.9 948.5L1956.6 952.4L1961.7 953L1961.9 973.4L1966.1 973.4L1966.8 976.6L1970.6 977.2L1971.2 982.3L1975.1 980.4L1978.3 981.1L1980.8 979.8L1982.1 981.7L1988.5 981.1L1989.1 984.9L1994.2 984.9L1994.6 1007.9L1998.7 1007.9L1999.9 1011L2004.4 1009.8L2004.7 1022.5L2010.2 1023.2L2011.4 1025.7L2016.5 1027L2019.1 1029.5L2019.7 1032.1L2024.2 1032.7L2024.8 1035.7L2029.3 1035.9L2029.5 1074.8L2031.8 1073.5L2034.4 1072.9L2034.6 1080.6M155 333.3L155 423.7L156.5 430M161.7 430L169.4 367.8L175.5 341.9L183.2 304.9L184.9 303.2L190.1 333.3L198.3 296.3L198.7 322.1L208.2 295.4L216.8 271.3L218.5 290.3L221.1 281.7L223.7 341.1L233.2 321.3L233.6 335L238.3 325.6L243.5 348L252.1 331.6L257.3 341.1L266.7 325.6L270 333.3M155 423.7L159.9 459.6L161.7 430M270 333.3L277.4 346.3L292 325.7L295 330L298 326L302 332L306 327L310.9 337.8L315.2 353.2L320.3 360.1L330.6 349.8L331 356L334.9 349L334.9 373.8L349.5 358.3L355.5 362.6L368.4 349.8L373.5 354.1L387.3 341.2L393.3 337.8L395 337.5" stroke="#00BFBF" stroke-width="3.3" fill="none" stroke-linejoin="round" stroke-linecap="round"/>
<path d="M395 279.9L398.3 280.8L401.6 286.5L404.9 288.8L408.2 294.7L413.1 298.7L416.4 295.4L419.7 298.7L423 294.7L427 290.7L427 314.5L431.3 315.1L436.2 312.8L441.2 314.5L446.1 308.5L447.8 311.2L451.1 317.8L452.7 326L456 327.7L460.9 331L462.6 334.3L467.5 332.6L472.5 334.9L477.4 331L482.4 333.6L487.3 329.3L493.9 326L495.6 332.6L498.9 329.3L503.8 328.3L513.7 327.7L517 334.3L520.3 340.9L526.9 345.8L531.8 334.3L533.5 349.1L540.1 350.1L546.7 349.1L553.3 355.7L559.9 359L566.5 359L573 363.9L578 360.6L579.6 372.2L584.6 375.5L592.8 373.8L606 373.2L612.6 368.9L622.5 364.6L627.5 363.3L629.1 368.9L632.4 370.5L637.3 378.8L645.6 373.8L655.5 371.2L662.1 371.2L670.3 375.5L675.3 377.1L678.6 375.5L691.7 370.5L708.2 362.3L708.9 371.2L716.5 371.2L724.7 372.2L731.3 373.8L733 390.3L737.9 355.7L744.5 356.7L751.1 354L757.7 358L764.3 354.7L767.6 358L774.2 357.3L780.8 355.7L787.4 356.7L794 354L797.3 354.7L800.6 360.6L805.5 365.6L810.4 372.2L817 375.5L823.6 375.5L830.2 373.2L840.1 372.2L850 371.2L863.2 370.5L864.9 377.1L868.1 383.7L876.4 387L883 388.7L896.2 387.7L902.8 383.7L904.4 390.3L912 388.7L912 388.7L921.9 385.4L930.1 383.1L931.8 393.6L936.7 395.3L941 396.9L941.7 408.4L948.3 405.2L954.9 402.8L961.5 403.5L963.1 410.1L966.4 411.7L967.4 421.6L973 423.3L977.9 426.6L986.2 425.9L992.8 424.9L999.4 426.6L1001 429.9L1009.3 429.9L1010.9 436.5L1019.2 433.2L1025.8 433.2L1029.1 436.5L1030.7 443.1L1037.3 441.4L1047.2 439.8L1047.8 420L1048.8 428.2L1057.1 429.9L1060.4 433.2L1063.7 436.5L1070.3 438.1L1076.9 440.4L1083.5 441.4L1091.7 440.4L1096.6 441.4L1099.9 448.2L1106.5 446.6L1113.1 445.9L1119.7 446.6L1121.4 453.8L1129.6 453.2L1136.2 452.5L1142.8 453.8L1146.8 454.8L1147.7 459.8L1152.7 463.1L1157.6 466.4L1159.3 473L1165.9 472.3L1169.2 471.3L1172.5 475.6L1179.1 473L1182.4 476.3L1187.3 481.2L1190.6 482.9L1192.3 487.8L1198.9 486.2L1205.5 486.2L1212 484.5L1212.7 491.1L1220.3 492.1L1228.5 492.8L1235.1 493.4L1238.4 496.1L1241.7 496.7L1251.6 497.7L1258.2 499.3L1264.8 500L1268.1 502.6L1274.7 503.3L1276.3 501L1277.3 509.9L1284.6 509.9L1294.5 509.9L1299.4 508.6L1301.1 515.8L1307.7 516.5L1314.3 517.5L1314.9 525.7L1324.1 526.4L1334 526.4L1335.7 530.7L1343.9 531.7L1353.8 532.3L1367 532.3L1369.7 540.6L1380.2 540.6L1392.7 540.6L1394 547.2L1396.7 548.8L1398.3 555.4L1403.3 558.7L1408.2 562L1416.5 562L1421.4 562.7L1429 561.3L1429 562L1430.6 552.1L1435.6 551.4L1448.8 551.4L1462 551.4L1466.9 552.8L1471.9 553.8L1476.8 552.1L1477.8 555.4L1485.1 557.1L1494.9 557.1L1499.9 558.7L1508.1 561.3L1514.7 562.7L1518 564.6L1521.3 566.9L1524 570.2L1526.3 575.2L1532.9 575.2L1534.5 581.1L1541.1 583.4L1547.7 584.4L1554.3 585.1L1560.9 585.7L1567.5 585.7L1569.1 591L1572.4 593.3L1574.1 597.6L1580.7 598.9L1587.3 600.9L1593.9 602.2L1595.5 606.5L1598.8 609.8L1600.5 611.5L1601.1 588.4L1608.7 590L1616.9 592.3L1623.5 594.3L1630.1 595L1640 597.6L1646.6 599.9L1653.2 603.2L1659.8 605.5L1666.4 607.5L1673 608.8L1679.6 610.8L1686.2 612.1L1692.8 613.1L1704.3 613.1L1705.3 620.7L1710.9 622L1712.6 634.5L1719.2 634.5L1725.7 637.2L1727.4 639.5L1728.1 619.7L1735.6 621.3L1742.2 624L1748.8 626.3L1752.1 627.9L1753.8 632.9L1762 634.5L1770.3 637.8L1775.2 639.5L1776.9 642.8L1781.1 646.1L1781.8 657L1788.4 657.6L1798.3 657.6L1808.2 657.6L1818.1 657.6L1819.7 665.9L1820.4 645.1L1823 648.4L1828 649.4L1831.3 654.3L1837.9 657.6L1841.1 661.6L1847.7 664.2L1854.3 665.9L1860.9 669.2L1867.5 670.8L1874.1 674.8L1880.7 676.7L1887.3 679L1893.9 684L1898.9 686.6L1902.8 687.9L1903.1 654.3L1912 655L1913 670.8L1913.7 692.2L1917 693.9L1918.6 703.8L1921.9 705.4L1922.9 713.7L1926.9 715.3L1930.2 718.6L1933.5 720.3L1938.4 722.9L1941.7 724.2L1946 726.9L1946.6 736.5L1957 736.5L1957.2 740.9L1961.4 742L1960.4 742.6L1961 764.2L1965.5 764.9L1966.8 766.8L1971.2 767.4L1971.9 770.6L1980.8 770.6L1981.5 773.2L1989.1 773.4L1989.7 777L1994.2 777L1994.6 803.8L1999.3 803.8L1999.9 805.7L2004.4 805.7L2004.8 821L2012.7 821L2014 822.7L2019.1 822.7L2019.7 830.6L2024.2 830.6L2024.8 836.9L2026.7 835.7L2029.3 834.4L2029.5 874.6M139.8 54.8L150 54.8L150 311.9M150.1 230L150.1 312.7L154.8 268.7L155 333.3L160.8 307.5L165.1 278.2L171.2 258.4L174.6 239.5L181.5 230M217.2 195.6L217.7 230L218.1 270.5L223.7 260.1L224.1 322.1L233.2 301.5L233.6 315.2L238.3 304.9L243.5 315.2L243.9 329L252.1 310.9L257.3 322.1L266.7 304.9L270 310.9M271 315.3L276.1 286.6L287.1 273.1L292.2 266.3L293 276.5L296.4 269.7L298.9 274.8L301.5 273.1L302.3 278.2L304 271.4L309.1 266.3L310.8 274.8L314.1 279.8L315 293.4L320.1 302.7L326 295.1L330.2 291.7L331 297.6L334.4 290L335.3 315.3L339.5 308.6L349.6 299.3L354.7 304.4L368.2 290L373.3 295.9L383.4 287.5L391.9 281.5L393.6 284.1L398.6 279.8M181.5 230L189.9 206L197.5 185L198.7 217L204.7 208.6L208.3 196L219.1 196.5L219.7 268.6" stroke="#FFFF00" stroke-width="3.3" fill="none" stroke-linejoin="round" stroke-linecap="round"/>
</g>
<rect x="137.5" y="54.5" width="2066" height="1299" fill="none" stroke="#000" stroke-width="1.3"/>
<g font-family="Liberation Sans, Arial, sans-serif" font-size="61.5" fill="#000"><text transform="translate(124.7 1413) scale(0.75 1)">0</text>
<text transform="translate(363.7 1413) scale(0.75 1)" clip-path="url(#k01)">0.1</text>
<text transform="translate(621.9 1413) scale(0.75 1)">0.2</text>
<text transform="translate(880.2 1413) scale(0.75 1)">0.3</text>
<text transform="translate(1138.4 1413) scale(0.75 1)">0.4</text>
<text transform="translate(1396.7 1413) scale(0.75 1)">0.5</text>
<text transform="translate(1654.9 1413) scale(0.75 1)">0.6</text>
<text transform="translate(1913.2 1413) scale(0.75 1)">0.7</text>
<text transform="translate(2171.4 1413) scale(0.75 1)">0.8</text>
<text transform="translate(105.3 1370.9) scale(0.75 1)">0</text>
<text transform="translate(66.9 1241) scale(0.75 1)" clip-path="url(#k01)">0.1</text>
<text transform="translate(66.9 1111.1) scale(0.75 1)">0.2</text>
<text transform="translate(66.9 981.2) scale(0.75 1)">0.3</text>
<text transform="translate(66.9 851.3) scale(0.75 1)">0.4</text>
<text transform="translate(66.9 721.4) scale(0.75 1)">0.5</text>
<text transform="translate(66.9 591.5) scale(0.75 1)">0.6</text>
<text transform="translate(66.9 461.6) scale(0.75 1)">0.7</text>
<text transform="translate(66.9 331.7) scale(0.75 1)">0.8</text>
<text transform="translate(66.9 201.8) scale(0.75 1)">0.9</text>
<text transform="translate(105.3 71.9) scale(0.75 1)" clip-path="url(#k1)">1</text></g>
<text font-family="Liberation Serif, Times New Roman, serif" font-weight="bold" font-size="56.5" transform="translate(1168.4 1476.8) scale(0.818 1)" text-anchor="middle">Recall</text>
<g font-family="Liberation Serif, Times New Roman, serif" font-weight="bold" font-size="58.5" transform="translate(58.3 712.5) rotate(-90)"><text transform="translate(-101.4 0) scale(0.78 1)" text-anchor="middle">P</text><text transform="translate(-69.3 0) scale(0.78 1)" text-anchor="middle">r</text><text transform="translate(-42.3 0) scale(0.78 1)" text-anchor="middle">e</text><text transform="translate(-15.3 0) scale(0.78 1)" text-anchor="middle">c</text><text transform="translate(6.7 0) scale(0.78 1)" text-anchor="middle">i</text><text transform="translate(27 0) scale(0.78 1)" text-anchor="middle">s</text><text transform="translate(47.2 0) scale(0.78 1)" text-anchor="middle">i</text><text transform="translate(70.9 0) scale(0.78 1)" text-anchor="middle">o</text><text transform="translate(103 0) scale(0.78 1)" text-anchor="middle">n</text></g>
<g font-family="Liberation Sans, Arial, sans-serif" fill="#000"><rect x="143.7" y="695.5" width="356.8" height="653.1" fill="#fff" stroke="#000" stroke-width="1.3"/>
<line x1="156.8" y1="729.6" x2="223.3" y2="729.6" stroke="#FFD700" stroke-width="4.2"/>
<text font-size="48" transform="translate(230.2 747.7) scale(0.764 1)">Our Model</text>
<line x1="156.8" y1="796.7" x2="223.3" y2="796.7" stroke="#4DBEEE" stroke-width="4.2"/>
<text font-size="48" transform="translate(230.2 807.5) scale(0.764 1)">SLIC</text>
<text font-size="34.6" transform="translate(312.3 828.8) scale(0.764 1)">Z&amp;F</text>
<line x1="156.8" y1="874.6" x2="223.3" y2="874.6" stroke="#993300" stroke-width="4.2"/>
<text font-size="48" transform="translate(230.2 885.7) scale(0.764 1)">SLIC</text>
<text font-size="34.6" transform="translate(312.3 906) scale(0.764 1)">VGG-16</text>
<line x1="156.8" y1="951.3" x2="223.3" y2="951.3" stroke="#FF00FF" stroke-width="4.2"/>
<text font-size="48" transform="translate(230.2 961.5) scale(0.764 1)">Faster</text>
<text font-size="34.6" transform="translate(332.2 982) scale(0.764 1)">Z&amp;F</text>
<line x1="156.8" y1="1028.6" x2="223.3" y2="1028.6" stroke="#0000FF" stroke-width="4.2"/>
<text font-size="48" transform="translate(230.2 1040.3) scale(0.764 1)">Faster</text>
<text font-size="34.6" transform="translate(332.2 1060.7) scale(0.764 1)">VGG-16</text>
<line x1="156.8" y1="1108.0" x2="223.3" y2="1108.0" stroke="#FF0000" stroke-width="4.2"/>
<text font-size="48" transform="translate(230.2 1118.2) scale(0.764 1)">Cascaded</text>
<text font-size="34.6" transform="translate(394 1139.5) scale(0.764 1)">VGG-16</text>
<line x1="156.8" y1="1183.3" x2="223.3" y2="1183.3" stroke="#000000" stroke-width="4.2"/>
<text font-size="48" transform="translate(230.2 1194) scale(0.764 1)">Fast</text>
<text font-size="34.6" transform="translate(302.1 1214.4) scale(0.764 1)">VGG-16</text>
<line x1="156.8" y1="1253.4" x2="223.3" y2="1253.4" stroke="#00BFBF" stroke-width="4.2"/>
<text font-size="48" transform="translate(230.2 1272.2) scale(0.764 1)">SSD</text>
<line x1="156.8" y1="1311.6" x2="223.3" y2="1311.6" stroke="#FFFF00" stroke-width="4.2"/>
<text font-size="48" transform="translate(230.2 1331.1) scale(0.764 1)">Yolo V2</text></g>
<path d="M395.5 3058.5V1759.5M653.5 3058.5V1759.5M911.5 3058.5V1759.5M1170.5 3058.5V1759.5M1428.5 3058.5V1759.5M1686.5 3058.5V1759.5M1944.5 3058.5V1759.5" stroke="#000" stroke-width="1.15" stroke-dasharray="24 24" fill="none"/>
<path d="M137.5 2928.5H2203.5M137.5 2797.5H2203.5M137.5 2667.5H2203.5M137.5 2537.5H2203.5M137.5 2409.5H2203.5M137.5 2278.5H2203.5M137.5 2148.5H2203.5M137.5 2017.5H2203.5M137.5 1887.5H2203.5" stroke="#000" stroke-width="1.15" stroke-dasharray="24 24" fill="none"/>
<path d="M395.5 3058.5v-27.5M395.5 1759.5v26.5M653.5 3058.5v-27.5M653.5 1759.5v26.5M911.5 3058.5v-27.5M911.5 1759.5v26.5M1170.5 3058.5v-27.5M1170.5 1759.5v26.5M1428.5 3058.5v-27.5M1428.5 1759.5v26.5M1686.5 3058.5v-27.5M1686.5 1759.5v26.5M1944.5 3058.5v-27.5M1944.5 1759.5v26.5M137.5 2928.5h21M2203.5 2928.5h-22.5M137.5 2797.5h21M2203.5 2797.5h-22.5M137.5 2667.5h21M2203.5 2667.5h-22.5M137.5 2537.5h21M2203.5 2537.5h-22.5M137.5 2409.5h21M2203.5 2409.5h-22.5M137.5 2278.5h21M2203.5 2278.5h-22.5M137.5 2148.5h21M2203.5 2148.5h-22.5M137.5 2017.5h21M2203.5 2017.5h-22.5M137.5 1887.5h21M2203.5 1887.5h-22.5" stroke="#000" stroke-width="1.15" fill="none"/>
<clipPath id="c1705"><rect x="135.5" y="1756.5" width="2070.0" height="1304.0"/></clipPath>
<g clip-path="url(#c1705)">
<path d="M395 2278.5L398.3 2276.8L399 2301.6L403.2 2303.2L409.8 2295L411.5 2297.6L413.1 2308.8L421.4 2299.9L428 2295L436.2 2283.4L437.9 2298.3L444.5 2291.7L451.1 2285.1L460.9 2275.2L461.9 2311.5L469.2 2306.5L472.5 2304.9L474.1 2324.6L480.7 2318L489 2311.5L490.6 2321.3L493.9 2324L500.5 2318L508.8 2313.1L513.7 2312.1L520.3 2308.8L521.9 2313.1L526.9 2308.2L533.5 2303.2L543.4 2294.3L545 2301.6L548.3 2306.5L551.6 2304.2L556.6 2303.2L559.9 2300.9L563.2 2302.2L566.5 2300.9L573 2298.3L579.6 2297.6L586.2 2295L591.2 2294.3L592.8 2298.3L594.5 2304.9L596.1 2316.4L602.7 2314.1L607.7 2312.1L611 2317.4L615.9 2314.1L622.5 2309.8L629.1 2306.5L635.7 2304.2L642.3 2301.6L648.9 2299.9L655.5 2297.6L662.1 2295.6L668.7 2293.3L674.6 2290L675.3 2295L685.2 2304.2L691.7 2300.9L698.3 2297.6L704.9 2295L713.2 2292.3L714.8 2296.6L719.8 2298.3L724.7 2295.6L731.3 2292.3L737.9 2290L739.6 2297.6L744.5 2298.3L751.1 2299.9L754.4 2301.6L756 2306.5L761 2311.5L765.9 2318L770.9 2316.4L777.5 2316.4L782.4 2318L787.4 2315.4L794 2312.1L800.6 2313.1L807.1 2309.8L813.7 2308.2L820.3 2306.5L826.9 2304.2L835.2 2301.6L836.8 2304.9L843.4 2306.5L850 2304.9L856.6 2308.2L863.2 2308.2L866.5 2311.5L868.1 2319.7L876.4 2317.4L881.3 2314.8L883 2324.6L889.6 2322L896.2 2319.7L904.4 2316.4L909.4 2318L911 2326.3L912 2323L918.6 2320.7L925.2 2319.7L926.8 2322L931.8 2320.7L936.7 2322L938.4 2324L945 2321.3L951.6 2319.7L958.2 2318L966.4 2316.4L969.7 2326.3L977.9 2326.3L987.8 2324L994.4 2323L999.4 2324.6L1001 2327.9L1007.6 2326.3L1014.2 2325.3L1020.8 2324.6L1027.4 2323L1034 2321.3L1040.6 2318.7L1047.2 2318L1050.5 2320.7L1055.4 2322L1060.4 2324L1063.7 2326.3L1067 2328.6L1073.6 2324.6L1074.2 2337.2L1080.2 2337.8L1083.5 2336.2L1088.4 2335.2L1090 2341.8L1091.7 2346.1L1099.9 2346.1L1106.5 2343.8L1113.1 2341.8L1116.4 2344.4L1123 2345.1L1129.6 2346.1L1131.3 2350.4L1142.8 2350.4L1149.4 2348.4L1156 2352.7L1162.6 2351.7L1169.2 2351.7L1169.8 2364.9L1175.8 2364.2L1182.4 2364.9L1189 2365.9L1195.6 2363.5L1202.2 2361.6L1208.7 2360.9L1215.3 2360.3L1217 2365.9L1221.9 2364.9L1228.5 2363.5L1235.1 2361.6L1241.7 2360.3L1246.7 2362.6L1248.3 2369.2L1254.9 2366.8L1261.5 2365.9L1268.1 2366.8L1274.7 2367.5L1281.3 2368.2L1282.9 2374.8L1291.2 2373.4L1301.1 2373.4L1302.7 2380.7L1307.7 2384L1314.3 2384.7L1320.9 2386.6L1327.4 2387.9L1330.7 2393.9L1337.3 2395.5L1343.9 2397.2L1350.5 2397.8L1353.8 2401.1L1360.4 2403.8L1368.7 2406.4L1370.3 2411L1376.9 2409.7L1386.8 2408.7L1393.4 2411L1400 2413L1406.6 2414.3L1408.2 2419.6L1413.2 2418.6L1419.8 2417.6L1423.1 2417L1424.7 2426.2L1429 2426.9L1429 2428.5L1435.6 2427.5L1442.2 2426.9L1447.1 2429.5L1452.1 2431.8L1458.7 2430.8L1465.3 2430.8L1471.9 2429.5L1478.5 2428.5L1481.8 2430.2L1488.3 2430.2L1494.9 2431.8L1501.5 2433.5L1508.1 2435.1L1510.8 2445L1518 2446L1524.6 2447.3L1531.2 2446.6L1537.8 2447.3L1539.5 2450.6L1544.4 2449.9L1551 2448.3L1557.6 2447.3L1564.2 2448.3L1570.8 2448.3L1572.4 2458.2L1577.4 2460.5L1584 2460.5L1590.6 2461.5L1597.2 2461.5L1603.8 2459.8L1610.3 2459.2L1613.6 2461.5L1616.9 2464.8L1623.5 2464.8L1630.1 2464.8L1636.7 2463.8L1640 2464.8L1641.7 2469.7L1646.6 2468.1L1653.2 2469.7L1659.8 2469.1L1664.7 2468.1L1666.4 2471.4L1669.7 2477L1676.3 2478L1682.9 2479L1689.5 2478L1690.1 2496.1L1696.1 2496.1L1702.7 2498.7L1707.6 2502.7L1712.6 2502L1713.2 2517.5L1719.2 2520.8L1722.5 2525.8L1727.4 2530.1L1727.4 2528.3L1729 2538.2L1732.3 2539.8L1734 2548.1L1738.9 2551.4L1743.9 2553L1745.5 2556.3L1750.5 2556.3L1752.1 2559.6L1758.7 2560.6L1765.3 2562.9L1771.9 2566.2L1775.2 2567.9L1778.5 2573.8L1783.4 2577.8L1788.4 2579.4L1791.7 2586L1801.6 2586L1804.9 2589.3L1808.2 2594.2L1814.8 2597.5L1818.1 2599.2L1819.7 2602.5L1820.4 2623.9L1824.7 2627.9L1831.3 2630.5L1836.2 2633.8L1839.5 2638.8L1844.4 2642.1L1849.4 2643.7L1857.6 2648.6L1864.2 2650.3L1870.8 2655.2L1877.4 2658.5L1882.4 2661.8L1884 2666.1L1892.3 2665.1L1893.2 2680L1897.2 2683.3L1898.9 2709.6L1902.1 2711.3L1903.8 2732.7L1908.7 2735.4L1912 2742.6L1913.7 2749.2L1920.3 2752.5L1921.9 2755.8L1922.9 2778.9L1925.2 2780.5L1926.9 2805.3L1928.5 2816.8L1931.8 2818.5L1932.8 2864.6L1935.1 2866.3L1936.1 2884.4M138.5 3058L140 2950L142 2700L144.4 2410L148.7 2277.7L157.3 2147.3L162.5 2095.8L169.3 2046L173.4 2027L177.6 2006.4L183 1982.4L189.2 1961.8L193.5 1944.6L193.5 2083.8L203.6 2047.8L213.1 2017.7L213.9 2068.3L218.2 2052L218.7 2098.4L223.4 2082.9L223.9 2122.4L232.8 2095.8L233.2 2161.9L238 2147.3L238.8 2177.3L248.3 2152.4L251.7 2138.7L258.6 2126.7L265.4 2113L272.3 2102.7L281.7 2082.9L282.2 2107.8L291.2 2090.7L298 2082.1L303.2 2076.1L308.3 2061.5L315.2 2056.3L315.5 2075.2L323.8 2063.2L324.1 2101L329.8 2095.8L330.1 2128.4L334.1 2124.1L334.4 2185L345.2 2169.6L345.6 2211.6L350.4 2204.8L350.7 2228.8L354.6 2224.5L355 2233.1L363.2 2220.2L363.6 2233.1L373.5 2219.4L373.9 2261.4L383.8 2250.2L384.2 2287.1L393.3 2274.3L394.1 2282.8L395 2278.5" stroke="#000000" stroke-width="3.3" fill="none" stroke-linejoin="round" stroke-linecap="round"/>
<path d="M395 2010.5L399.9 2008.9L401.6 2005.6L403.2 2021.4L408.2 2017.1L414.8 2012.2L421.4 2008.9L426.3 2005.6L427.3 2018.1L431.3 2015.5L437.9 2012.2L441.2 2009.5L441.8 2021.4L447.8 2018.1L454.3 2013.8L460.9 2009.5L467.5 2005.6L474.1 2000.6L480.7 1995.7L487.3 1993.1L493.9 1989.8L500.5 1987.5L507.1 1983.2L513.7 1979.9L520.3 1976.6L525.2 1974.3L525.9 2027L530.2 2025.4L533.5 2022.1L535.1 2032L540.1 2032L543.4 2036.9L550 2034.6L556.6 2032L563.2 2028.7L568.1 2025.4L569.8 2033.6L573 2036.9L574.7 2041.9L579.6 2039.2L586.2 2035.9L592.8 2033.6L596.1 2030.3L597.8 2036.9L606 2033.6L612.6 2031.3L615.9 2028.7L619.2 2033.6L621.8 2041.9L629.1 2039.2L635.7 2036.9L642.3 2033.6L648.9 2030.3L658.8 2026L668.7 2022.1L675.3 2018.8L675.9 2035.3L681.9 2036.9L688.5 2035.3L693.4 2033.6L695 2047.8L701.6 2045.2L711.5 2041.9L724.7 2037.9L734.6 2033.6L739.6 2032L741.2 2038.6L742.9 2046.8L746.2 2050.1L749.4 2051.7L754.4 2053.4L761 2056.7L770.9 2058.3L772.5 2066.6L777.5 2066.6L780.8 2063.3L784.1 2068.2L790.7 2066.6L795.6 2064.9L796.6 2081.4L803.9 2079.8L813.7 2075.5L823.6 2071.5L833.5 2069.9L843.4 2065.6L853.3 2062.3L863.2 2059L869.8 2056.7L879.7 2053.4L887.9 2051.1L889.6 2055L896.2 2053.4L902.8 2051.1L909.4 2050.1L912 2048.5L912 2053.4L918.6 2051.1L925.2 2048.5L926.8 2056.7L931.8 2055L938.4 2054.4L945 2052.4L949.9 2053.4L951.6 2056.7L958.2 2053.4L964.8 2051.1L971.3 2050.1L973 2055L976.3 2056.7L981.2 2055L987.8 2055L991.1 2056.7L994.4 2060L999.4 2068.2L1007.6 2064.9L1017.5 2063.3L1020.8 2067.6L1027.4 2064.9L1034 2063.3L1042.2 2061.6L1043.2 2073.2L1050.5 2071.5L1057.1 2070.9L1062 2074.8L1063.7 2079.8L1070.3 2078.1L1076.9 2077.5L1080.2 2078.8L1086.8 2077.5L1093.3 2075.5L1099.9 2077.5L1106.5 2076.5L1116.4 2074.8L1123 2075.5L1129.6 2074.8L1139.5 2074.8L1146.1 2074.2L1156 2074.8L1162.6 2076.5L1165.9 2078.8L1172.5 2077.5L1179.1 2076.5L1182.4 2079.8L1185 2089.7L1192.3 2090.7L1202.2 2089.7L1210.4 2089.7L1212 2093L1215.3 2094.6L1220.3 2097.9L1226.9 2098.6L1235.1 2096.3L1241.7 2094.6L1251.6 2096.3L1253.3 2102.9L1259.9 2103.8L1264.8 2104.5L1266.4 2109.4L1268.1 2111.8L1274.7 2109.4L1284.6 2107.8L1294.5 2105.2L1296.1 2109.4L1304.4 2107.8L1311 2107.1L1312.6 2111.1L1320.9 2112.7L1327.4 2112.7L1330.7 2116L1335.7 2117.7L1339 2119.3L1340.6 2130.9L1347.2 2131.5L1357.1 2130.9L1367 2130.2L1373.6 2127.6L1386.8 2125.9L1396.7 2124.9L1406.6 2123.6L1408.2 2127.6L1413.2 2129.2L1416.5 2134.2L1421.4 2137.5L1426.4 2140.8L1429 2142.4L1429 2143.3L1435.6 2142.6L1442.2 2141.6L1448.8 2141.6L1455.4 2142.6L1457 2145.9L1462 2145.9L1468.6 2144.9L1471.9 2148.2L1478.5 2145.9L1486.7 2144L1494.9 2142.6L1499.9 2141.6L1501.5 2144.9L1504.8 2149.9L1508.1 2154.8L1514.7 2154.8L1521.3 2155.8L1527.9 2157.1L1534.5 2158.1L1537.8 2160.4L1541.1 2163.1L1544.4 2165.7L1549.3 2166.4L1551 2169L1557.6 2169L1564.2 2168L1567.5 2168L1568.1 2176.9L1574.1 2175.6L1580.7 2174.6L1585.6 2173L1587.3 2178.9L1593.9 2177.9L1600.5 2176.9L1607 2176.3L1610.3 2175.6L1613.6 2178.9L1620.2 2177.9L1625.2 2181.2L1630.1 2182.9L1631.8 2188.8L1635.1 2191.1L1636.7 2197.7L1641.7 2201L1646.6 2201L1651.6 2203.3L1656.5 2202.6L1663.1 2203.3L1669.7 2204.3L1679.6 2204.3L1682.9 2209.2L1684.5 2217.5L1689.5 2216.5L1699.4 2215.2L1700 2226.4L1707.6 2227.4L1712.6 2227.4L1717.5 2226.4L1718.5 2241.6L1725.7 2240.6L1727.4 2247.2L1732.3 2247.2L1737.3 2248.8L1738.9 2253.8L1745.5 2253.8L1752.1 2254.7L1758.7 2257.1L1765.3 2258.7L1771.9 2260.3L1775.2 2263.6L1776.9 2271.9L1781.8 2273.5L1788.4 2275.2L1795 2276.8L1796.6 2280.1L1804.9 2280.1L1811.5 2279.1L1818.1 2281.1L1824.7 2280.1L1834.6 2280.1L1837.9 2284.4L1839.5 2297.6L1844.4 2297.6L1847.7 2295.6L1851 2298.3L1854.3 2304.9L1860.9 2304.2L1867.5 2307.5L1872.5 2311.5L1874.1 2327.9L1880.7 2330.6L1885.7 2329.6L1888 2334.5L1889 2347.7L1893.9 2348.4L1897.2 2351L1897.9 2382.3L1903.8 2383.3L1904.5 2403.8L1907.1 2405.4L1907.8 2440.7L1912 2441.7L1913 2530.1L1913 2526.6L1917 2529L1918.6 2533.2L1921.9 2534.2L1922.6 2579.4L1926.9 2578.4L1927.5 2803.6M171.3 1760.9L208.5 1760.9L208.5 1907.1M208.3 1908.1L213.3 1901.5L217.4 1893.2L221.6 1887.4L227.4 1879.9L232.7 1876.2L233.2 1928L236.5 1921.4L242.3 1913.9L248.1 1908.9L251.4 1902.3L257.2 1897.3L262.2 1891.5L271.3 1883.2L276.3 1880.7L282.1 1875.8L282.5 1908.1L291.2 1906.4L291.6 1933.8L302.8 1924.7L309.4 1916.4L317.7 1909.7L324.4 1904.8L324.8 2002.6L328.5 2000.1L329.3 2040M329.4 2040L329.8 2037.5L334.1 2034L346.1 2023.7L358.1 2011.7L359 2044.3L375.2 2030.6L392.4 2015.1L395 2010.5" stroke="#FF0000" stroke-width="3.3" fill="none" stroke-linejoin="round" stroke-linecap="round"/>
<path d="M395 2055.7L401.6 2050.1L408.2 2045.2L408.8 2056.7L411.5 2060L413.1 2061.6L414.1 2078.1L416.4 2084.7L417.4 2097.9L419.7 2101.2L421.4 2121L428 2117.7L431.3 2112.7L432.9 2122.6L436.2 2124.3L437.9 2130.9L444.5 2125.9L451.1 2121L456 2116L457.6 2121L460.9 2125.9L462.6 2130.9L467.5 2125.9L472.5 2122.6L474.1 2130.9L479.1 2134.2L482.4 2130.9L489 2127.6L493.9 2124.3L500.5 2119.3L502.2 2134.2L505.5 2140.8L510.4 2137.5L517 2134.2L525.2 2130.9L528.5 2125.9L529.5 2137.5L533.5 2137.5L538.4 2134.2L539.1 2145.1L537.8 2144.9L537.8 2165.7L543.4 2163.1L550 2159.8L553.3 2166.4L556.6 2169.7L563.2 2162.4L563.8 2191.1L569.8 2187.8L576.3 2183.5L579.6 2182.2L581.3 2189.5L586.2 2186.8L594.5 2182.9L596.1 2186.2L599.4 2192.8L601.1 2198.7L607.7 2194.4L614.3 2191.1L619.2 2189.5L622.5 2192.8L627.5 2188.8L628.4 2197.7L630.7 2201L632.4 2209.2L637.3 2205.9L639 2210.9L641.6 2218.5L648.9 2215.2L655.5 2209.9L657.1 2213.2L658.8 2215.8L660.4 2221.8L668.7 2218.5L675.3 2215.2L681.9 2211.9L688.5 2207.6L690.1 2214.2L695 2213.2L698.3 2214.2L704.9 2212.5L711.5 2210.9L716.5 2209.2L723.1 2206.6L724.1 2220.8L731.3 2217.5L739.6 2215.2L744.5 2213.2L751.1 2213.2L761 2210.9L761.6 2227.4L767.6 2225.7L772.5 2225.7L774.2 2231.7L779.1 2229L784.1 2230.7L787.4 2233L790.7 2230.7L791.3 2245.5L797.3 2244.9L802.2 2246.2L807.1 2244.9L813.7 2240.6L815.4 2250.5L820.3 2249.5L825.3 2248.8L826.3 2260.3L833.5 2259.4L840.1 2260.3L846.7 2262L850 2265.3L856.6 2263.6L859.9 2266.9L866.5 2263.6L873.1 2262.7L883 2262.7L891.2 2258.7L892.2 2288.4L896.2 2290L902.8 2293.3L909.4 2296.6L912 2299.9L912 2299.9L918.6 2301.6L925.2 2298.3L931.8 2295L935.7 2293.3L936.7 2312.1L941.7 2309.8L948.3 2308.8L950.9 2308.2L951.6 2314.8L958.2 2314.1L964.8 2314.8L966.4 2324.6L968.1 2333.9L970.7 2334.5L971.3 2356L977.9 2356L984.5 2357.6L989.5 2357.6L997.7 2354.3L1007.6 2350.4L1017.5 2347.1L1024.1 2348.4L1030.7 2347.1L1037.3 2346.1L1040.6 2347.7L1047.2 2347.1L1052.1 2346.1L1053.8 2351L1058.7 2352.7L1062 2357.6L1067 2359.3L1071.9 2360.3L1073.6 2365.9L1080.2 2368.2L1086.8 2369.2L1091.7 2370.8L1093.3 2374.8L1098.3 2375.7L1101.6 2388.9L1109.8 2387.9L1116.4 2387.9L1121.4 2386.6L1122 2407.1L1126.3 2408.7L1128 2417L1136.2 2414.3L1142.8 2414.3L1146.1 2416.3L1152.7 2417L1156 2422.9L1162.6 2421.9L1169.2 2422.9L1172.5 2424.2L1175.8 2424.2L1179.1 2422.9L1182.4 2427.5L1185.7 2430.2L1190.6 2433.5L1192.3 2440L1198.9 2440.7L1202.2 2445L1208.7 2446L1217 2446L1218.6 2456.5L1225.2 2457.2L1235.1 2458.2L1241.7 2458.2L1248.3 2457.2L1250 2466.4L1254.9 2467.1L1261.5 2465.8L1268.1 2464.8L1274.7 2464.8L1281.3 2464.8L1291.2 2466.4L1297.8 2467.1L1307.7 2467.1L1314.3 2464.8L1320.9 2463.1L1330.7 2464.8L1340.6 2466.4L1349.9 2465.8L1350.5 2474.7L1355.5 2478L1363.7 2479.6L1367 2482.9L1373.6 2483.6L1380.2 2484.6L1386.8 2486.2L1393.4 2487.9L1400 2488.8L1406.6 2490.2L1413.2 2492.1L1419.8 2493.5L1429 2494.4L1429 2496.1L1435.6 2496.1L1442.2 2496.8L1447.1 2500.1L1452.1 2502L1458.7 2504.3L1465.3 2504.3L1471.9 2502.7L1478.5 2503.4L1483.4 2502L1485.1 2510.9L1491.6 2512.6L1498.2 2514.2L1503.2 2515.9L1508.1 2517.5L1511.4 2522.5L1518 2524.1L1521.3 2530.1L1527.9 2529.1L1541.1 2528.4L1554.3 2529.1L1560.9 2527.4L1570.8 2526.4L1580.7 2525.1L1593.9 2525.1L1607 2525.1L1612 2528.4L1608.7 2530.9L1612 2534.2L1616.9 2533.2L1623.5 2532.3L1626.8 2534.2L1631.8 2533.2L1633.4 2536.5L1640 2538.8L1643.3 2541.5L1646.6 2549.7L1653.2 2551.4L1659.8 2554L1664.7 2555.3L1666.4 2559.6L1673 2557.3L1679.6 2556.3L1682.9 2561.3L1686.2 2566.2L1692.8 2567.2L1694.4 2580.4L1702.7 2580.4L1712.6 2581.1L1719.2 2584.3L1725.7 2583.7L1732.3 2583.7L1738.9 2584.3L1742.2 2589.3L1748.8 2587L1758.7 2587L1765.3 2587.6L1767 2590.9L1771.9 2590.3L1775.2 2589.3L1776.9 2595.9L1785.1 2595.9L1790 2595.9L1791.7 2612.4L1796.6 2614.7L1804.9 2614.7L1811.5 2619L1814.8 2623.9L1816.4 2635.5L1821.4 2637.1L1824.7 2643.7L1829.6 2646.3L1834.6 2647.7L1839.5 2649.6L1840.5 2656.2L1847.7 2655.2L1857.6 2656.2L1860.9 2660.2L1867.5 2661.8L1872.5 2663.5L1875.8 2670.1L1877.4 2680L1887.3 2680L1892.3 2681.6L1893.9 2691.5L1897.2 2696.5L1898.9 2704.7L1903.8 2704.7L1910.4 2704.7L1912 2732.1L1917 2732.7L1920.3 2747.6L1923.6 2755.8L1931.8 2755.8L1932.8 2818.5L1932.9 2820.8L1936.1 2822.1L1936.1 2832.3L1941.2 2832.3L1941.9 2834.8L1946.3 2834.8L1946.3 2847.6L1951.4 2848.2L1952.1 2852.7L1956.5 2852.7L1957.2 2856.5L1961.6 2856.5L1962.3 2861L1966.7 2861L1967 2869.3L1971.2 2869.3L1971.6 2882.7L1982 2882.7M200 2000.9L205 1986L209.1 1974.4L213.3 1964.9L219.9 1950.4L226.5 1939.6L232.7 1930.1L233.2 1975.2L239.8 1964.5L244.8 1958.7L251.4 1944.6L258 1936.3L262.2 1930.9L268 1926.3L273 1920.5L280.4 1913.1L292 1902.3L303.6 1894L310.3 1888.2L317.7 1883.2L319.4 1880.7L319.4 1986M170 1900L170 1917.2M174.8 1937.1L175.2 2060M184.4 2060L188.5 2040.7L193.3 2016.7L200.2 1996.1L207.1 1978.9L213.2 1964.5M169.6 1839.5L169.6 1917.2M174.8 2060L174.8 2113L180.5 2083.8L186.5 2056.3L193.3 2010L200.2 1996.1M319.4 1986L330.2 1974.7L331 1988.2L335.3 1991.6L336.1 2035L350 2020L350.4 2037.5L355 2066L368.4 2052L368.7 2068.3L378.7 2059.8L379 2072.6L395 2055.7" stroke="#0000FF" stroke-width="3.3" fill="none" stroke-linejoin="round" stroke-linecap="round"/>
<path d="M401.6 2140L403.2 2156.5L406.5 2161.4L408.2 2169.7L411.5 2168L413.1 2178.9L416.4 2181.2L418.1 2191.1L421.4 2192.8L423 2196.1L431.3 2189.5L432.9 2194.4L441.2 2188.8L451.7 2178.9L452.7 2204.3L460.9 2197.7L474.1 2186.8L475.8 2191.1L482.4 2183.5L484 2197.7L489 2196.1L493.9 2194.4L497.2 2189.5L498.9 2196.1L503.8 2192.1L508.8 2187.8L510.4 2196.1L513.7 2199.3L515.3 2209.2L520.3 2207.6L523.6 2209.9L525.2 2212.5L530.2 2205.9L531.8 2210.9L533.5 2217.5L538.4 2219.1L541.7 2222.4L546.7 2225.1L550 2226.4L553.3 2229.7L556.6 2235L561.5 2234L564.8 2236.3L568.1 2238.9L568.8 2306.5L574.7 2303.2L579.6 2298.3L584.6 2296.6L586.2 2301.6L592.8 2308.2L599.4 2303.2L606 2301.6L611 2304.9L612.6 2309.8L619.2 2306.5L625.8 2303.2L632.4 2301.6L639 2298.3L640.6 2309.8L645.6 2306.5L652.2 2304.9L658.8 2301.6L663.7 2299.9L665.4 2304.9L672 2308.2L675.3 2313.1L678.6 2316.4L681.9 2321.3L685.2 2323L688.5 2327.9L693.4 2331.2L695 2335.2L701.6 2332.9L706.6 2329.6L708.2 2337.2L714.8 2334.5L719.8 2337.2L721.4 2339.5L728 2336.2L734.6 2334.5L739.6 2332.9L744.5 2333.9L751.1 2330.6L754.4 2334.5L757.7 2337.2L761 2337.8L764.3 2339.5L767.6 2343.8L772.5 2347.1L774.2 2351L777.5 2357.6L782.4 2359.3L785.7 2354.3L786.7 2374.1L789 2374.8L790.7 2393.9L797.3 2393.9L800.6 2397.2L805.5 2400.5L810.4 2402.1L817 2403.8L823.6 2402.1L830.2 2400.5L831.9 2413L833.5 2443.3L840.1 2442.7L845.1 2445L846.7 2448.3L855 2446.6L855.9 2468.1L863.2 2467.1L869.8 2468.1L878 2464.8L879 2479.6L886.3 2477L892.9 2482.9L899.5 2479.6L906.1 2477L912 2478L912 2476.3L915.3 2478L918.6 2481.3L920.2 2486.2L921.9 2491.2L925.2 2492.8L926.8 2499.4L930.1 2502.7L935.1 2504.3L936.7 2507.6L941.7 2507.6L948.3 2506.6L950.9 2506L951.6 2514.2L954.9 2515.9L958.2 2514.2L961.5 2512.6L963.1 2520.8L966.4 2521.8L969.7 2522.5L971.3 2527.4L977.9 2528.4L984.5 2530.1L987.8 2534.9L994.4 2533.2L1001 2534.2L1007.6 2532.3L1009.3 2545.4L1015.9 2546.4L1019.2 2548.1L1020.8 2553L1025.8 2555.3L1030.7 2554.7L1034 2558L1035.6 2560.6L1043.9 2559.6L1050.5 2558L1057.1 2557.3L1063.7 2557.3L1064.3 2567.2L1068.6 2571.2L1073.6 2569.5L1081.8 2568.5L1083.5 2576.1L1090 2577.1L1091.7 2580.4L1096.6 2581.1L1103.2 2582.7L1106.5 2584.3L1111.5 2589.3L1116.4 2589.3L1121.4 2587L1123 2590.9L1126.3 2595.9L1132.9 2593.6L1139.5 2591.6L1146.1 2594.2L1147.7 2599.2L1152.7 2601.5L1159.3 2600.8L1159.9 2609.1L1165.9 2607.4L1172.5 2604.8L1179.1 2607.4L1185.7 2609.1L1192.3 2610.1L1195.6 2611.4L1198.9 2614L1205.5 2614.7L1217 2614L1218 2623.3L1225.2 2623.9L1231.8 2625.6L1238.4 2627.9L1245 2627.9L1251.6 2628.9L1254.9 2631.2L1256.6 2638.8L1264.8 2638.8L1271.4 2638.8L1272.1 2647L1276.3 2648.6L1279.6 2648.6L1281.3 2656.2L1287.9 2655.2L1294.5 2654.2L1296.1 2661.8L1301.1 2663.5L1307.7 2665.1L1314.3 2664.1L1314.9 2671.7L1320.9 2673.4L1327.4 2675L1334 2675L1340.6 2676.7L1347.2 2678.3L1353.8 2677.3L1358.8 2679.3L1359.8 2686.6L1367 2685.9L1373.6 2686.6L1380.2 2687.2L1383.5 2689.9L1386.8 2692.5L1393.4 2694.8L1400 2694.8L1406.6 2696.5L1413.2 2697.1L1419.8 2697.1L1426.4 2698.1L1429 2701.4L1429 2698.1L1432.3 2703L1435.6 2705.7L1438.9 2707L1442.2 2709L1443.8 2712.9L1447.1 2714.6L1450.4 2716.2L1451.4 2722.2L1455.4 2722.2L1462 2721.2L1465.3 2719.5L1471.2 2722.2L1471.9 2732.7L1475.2 2735.4L1478.5 2736.7L1481.8 2740L1486.7 2742.6L1491.6 2746.6L1494.9 2749.9L1498.2 2748.5L1504.8 2747.6L1509.8 2749.2L1514.7 2750.9L1521.3 2752.5L1524.6 2755.8L1531.2 2756.5L1534.5 2755.1L1536.2 2759.1L1542.8 2759.8L1552.6 2760.7L1553.6 2766.4L1557.6 2767.3L1560.9 2765.7L1562.5 2771.6L1570.8 2771.6L1574.1 2773.9L1580.7 2773.9L1592.2 2773.9L1593.9 2778.2L1597.2 2780.5L1600.5 2783.8L1605.4 2785.5L1608.7 2788.8L1610.3 2806.9L1616.9 2805.9L1623.5 2805.9L1630.1 2806.9L1635.1 2809.2L1636.7 2817.8L1641.7 2824.4L1646.6 2825.7L1653.2 2829L1659.8 2831.6L1663.1 2834.3L1664.7 2841.5L1669.7 2844.2L1673 2846.5L1674.6 2854.1L1679.6 2855.4L1686.2 2858.7L1689.5 2860.7L1690.1 2879.4L1694.4 2881.1L1699.4 2881.8L1701 2887L1706 2888.4L1708.6 2889.3M149.9 1760.9L149.9 2035M213.3 1901.5L213.3 1963.6L219.1 1951.2L226.5 1938.8L232.7 1929.6L233.2 1975.2L239.8 1964.5L244.8 1958.7L251.4 1944.6L258 1936.3L262.2 1931.3L262.2 1968.6L277.1 1947.9L277.1 1981L281.7 1974L282.1 2005.9L297 1985.2L297 2040M149.8 1900L149.8 2060M152.2 2060L154.2 2016.7L158.3 1978.9L163.8 1944.6L169.3 1919.2L169.7 1919.2L170 2046.2L173.4 2027L177.6 2006.4L183 1982.4L189.2 1961.8L193.3 1944.6L198.1 1930.9L203.6 1920.6L213.2 1902.1M149.9 2035L150.1 2083.8L155.6 2010M169.3 2010L170.2 2046L176.2 2010M297 2035L296.3 2061.5L304.9 2046L304.9 2088.9L324.6 2063.2L325.1 2083.8L334.9 2070.1L334.9 2121.5L344.4 2111.2L344.7 2126.7L359.8 2108.7L360.1 2125L373.5 2107L373.9 2122.4L389 2107L389.3 2119.8L393.3 2113L393.8 2140.4L397.5 2135.3L401.6 2140" stroke="#FF00FF" stroke-width="3.3" fill="none" stroke-linejoin="round" stroke-linecap="round"/>
<path d="M395 1842.4L401.6 1840.1L408.2 1836.8L409.8 1841.4L413.1 1841.4L414.1 1850.6L416.4 1853.9L418.1 1863.8L421.4 1865.5L423 1872.1L428 1870.4L431.3 1868.8L432.9 1873.7L436.2 1875.3L437.2 1880.3L444.5 1877L451.1 1874.4L456 1872.1L457.6 1876.3L462.6 1877L464.2 1879.6L470.8 1878.6L474.1 1877L475.8 1880.3L480.7 1878.6L487.3 1878.6L493.9 1876.3L500.5 1873.7L502.2 1880.3L505.5 1884.2L510.4 1881.9L517 1880.3L523.6 1877.7L528.5 1875.3L529.5 1885.2L533.5 1883.6L538.4 1881L539.1 1897.4L546.7 1894.1L553.3 1891.8L556.6 1895.1L559.9 1900.1L563.2 1896.1L563.8 1908.3L569.8 1907.3L576.3 1906L579.6 1907.3L586.2 1907.3L596.1 1905L597.8 1910L601.1 1912.6L606 1910L612.6 1908.3L619.2 1908.3L625.8 1908.3L627.5 1910.6L630.7 1913.9L635.7 1916.6L640.6 1919.9L645.6 1921.5L652.2 1920.5L658.8 1921.5L660.4 1923.8L665.4 1923.2L672 1921.5L678.6 1919.9L686.8 1918.2L688.5 1921.5L693.4 1921.5L698.3 1919.9L704.9 1920.5L711.5 1919.9L723.1 1918.2L724.1 1924.8L731.3 1923.8L737.9 1923.2L744.5 1921.5L751.1 1921.5L759.3 1919.2L760.3 1926.5L767.6 1926.5L774.2 1928.1L780.8 1929.1L782.4 1931.4L790.7 1929.8L791.7 1936.3L800.6 1937L813.7 1935.7L823.6 1936.3L825.3 1945.6L833.5 1944.6L843.4 1944.6L850 1946.2L856.6 1946.2L866.5 1945.6L876.4 1944.6L883 1943.6L892.9 1943.6L893.5 1957.8L899.5 1959.4L906.1 1961.1L912 1963.4L912 1964.4L918.6 1963.4L925.2 1962.1L933.4 1961.1L935.1 1962.1L935.7 1969.3L941.7 1968.7L948.3 1971L953.2 1972L966.4 1972L967.4 1980.9L971.3 1981.8L972 1991.7L977.9 1992.4L987.8 1992.4L997.7 1990.7L1004.3 1989.1L1014.2 1988.4L1024.1 1987.5L1034 1987.5L1038.9 1989.8L1043.9 1989.1L1050.5 1987.5L1053.8 1989.1L1057.1 1990.7L1063.7 1993.1L1070.3 1994L1073.6 1997.3L1080.2 1999L1086.8 1999.7L1091.7 2000.6L1096.6 2002.9L1101.6 2004.9L1102.6 2008.9L1109.8 2008.9L1116.4 2008.9L1121.4 2007.2L1122.4 2018.8L1126.3 2021.4L1136.2 2021.4L1142.8 2022.7L1149.4 2023.7L1156 2025.4L1162.6 2026L1169.2 2025.4L1175.8 2024.7L1180.7 2025.4L1185.7 2029.3L1190.6 2034.6L1198.9 2035.9L1208.7 2036.9L1217 2036.9L1218 2041.9L1225.2 2042.5L1235.1 2043.5L1245 2044.5L1251.6 2045.8L1254.9 2047.8L1261.5 2046.8L1268.1 2045.8L1281.3 2045.8L1287.9 2046.8L1294.5 2046.8L1301.1 2045.8L1307.7 2045.8L1320.9 2045.2L1330.7 2045.8L1340.6 2046.8L1347.2 2045.8L1349.9 2050.1L1353.8 2053.4L1360.4 2051.7L1365.4 2055.7L1373.6 2055.7L1386.8 2056.7L1400 2058.3L1413.2 2059L1419.8 2061L1429 2061.6L1429 2063.3L1435.6 2063.3L1442.2 2061.6L1447.1 2064.9L1455.4 2066.6L1462 2066.6L1468.6 2066.6L1476.8 2064.9L1483.4 2064.9L1485.1 2069.9L1491.6 2070.9L1498.2 2071.5L1503.2 2072.2L1506.5 2074.2L1509.8 2076.5L1514.7 2077.5L1521.3 2078.1L1534.5 2078.1L1541.1 2079.8L1544.4 2078.1L1552.6 2079.8L1560.9 2078.1L1577.4 2077.5L1584 2075.5L1593.9 2075.5L1603.8 2075.5L1607 2078.1L1613.6 2080.8L1630.1 2080.8L1633.4 2083.1L1640 2084.1L1641.7 2087.4L1646.6 2089.7L1656.5 2090.7L1663.1 2092L1666.4 2094L1673 2093L1679.6 2093L1686.2 2094.6L1692.8 2097.9L1694.4 2104.5L1702.7 2104.5L1715.9 2105.2L1722.5 2106.2L1732.3 2104.5L1738.9 2107.1L1745.5 2107.8L1755.4 2107.1L1765.3 2107.1L1775.2 2109.4L1781.8 2111.1L1791.7 2111.1L1792.4 2121L1801.6 2121.6L1811.5 2121.6L1813.1 2126.9L1816.4 2130.9L1824.7 2134.2L1831.3 2136.8L1839.5 2138.1L1841.1 2140.8L1857.6 2141.4L1864.2 2143.4L1874.1 2145.1L1877.4 2149.2L1879.1 2154.8L1884 2154.8L1893.9 2155.8L1895.6 2159.8L1897.2 2168L1903.8 2166.4L1912 2165.7L1913 2177.9L1915.3 2179.6L1917 2186.2L1921.9 2188.8L1923.6 2191.1L1932.8 2191.1L1933.5 2227.4L1938.4 2229L1946 2229.7L1946.6 2231L1946.9 2237.3L1951 2237.1L1952.3 2239.3L1956.1 2239.3L1956.8 2241.2L1961.2 2242.2L1961.9 2244.4L1966.3 2243.7L1966.6 2250.7L1971.4 2247.6L1971.7 2271.8L1981.6 2271.8M174.7 1764.3L175.6 1864.9L184 1844.6L192.5 1822.6L197.5 1814.2L202.6 1805.7L207.7 1798.9L214.4 1793.9L219.5 1788.8L228 1781.2L233 1777.8L233.4 1800.6L239.8 1795.6L244.9 1793L253.3 1784.6L263.4 1777.8L270.2 1774.4L277 1771.9L282 1796.4L287.1 1795.6L292.2 1793L297.2 1798.1L304 1800.6L310.8 1802.3L317.5 1803.2L320.9 1806.5L326 1801.5L330.2 1799.8L330.5 1814.2L335.3 1809.1L335.6 1831.9L344.6 1826L350 1821.8L350.5 1833.6L354.7 1831.1L355 1848.8L361.5 1843.7L368.2 1839.5L369.1 1848.8L378.4 1842.9L379.2 1851.3L388.5 1845.4L395.3 1842.9L400 1841.2" stroke="#FFD700" stroke-width="3.3" fill="none" stroke-linejoin="round" stroke-linecap="round"/>
<path d="M395 2039.2L399.9 2035.3L404.9 2032L408.2 2028.7L409.8 2030.3L413.1 2030.3L414.1 2045.2L416.4 2045.2L417.4 2055.7L421.4 2066.6L428 2062.3L432.9 2063.3L437.9 2061.6L444.5 2058.3L451.1 2055.7L456 2051.7L457.6 2055L462.6 2053.4L467.5 2050.1L470.8 2048.5L472.5 2058.3L475.8 2063.3L479.1 2066.6L480.7 2076.5L487.3 2079.8L493.9 2075.5L498.9 2074.8L500.5 2083.1L505.5 2086.4L507.1 2088.7L513.7 2084.1L520.3 2081.4L525.2 2076.5L528.5 2083.1L530.2 2092L535.1 2090.7L538.4 2088.7L540.1 2101.2L546.7 2097.9L553.3 2094.6L556.6 2099.6L561.5 2101.2L563.2 2111.1L569.8 2107.8L576.3 2105.2L582.9 2104.5L589.5 2105.2L596.1 2109.4L597.8 2117.7L606 2115.1L615.9 2116L619.2 2119.3L625.8 2116L632.4 2117.7L637.3 2119.3L640.6 2122.6L642.3 2130.9L648.9 2130.9L655.5 2132.5L658.8 2137.5L668.7 2137.5L678.6 2135.8L685.2 2138.1L691.7 2137.5L695 2140.8L698.3 2145.1L698.3 2144L708.2 2146.6L718.1 2144.9L724.7 2143.3L737.9 2141L751.1 2140L761 2141.6L767.6 2142.6L774.2 2143.3L780.8 2144.9L790.7 2146.6L795.6 2149.9L800.6 2151.5L807.1 2149.2L813.7 2147.3L817 2153.2L823.6 2151.5L825.3 2161.4L830.2 2163.7L836.8 2163.1L843.4 2162.4L850 2163.7L856.6 2164.7L863.2 2167L873.1 2168L879.7 2166.4L886.3 2165.7L889.6 2169L892.9 2173L894.5 2181.2L899.5 2182.2L904.4 2184.5L909.4 2186.2L912 2189.5L912 2189.5L918.6 2188.8L925.2 2187.8L935.1 2185.5L935.7 2197.7L941.7 2199.3L948.3 2201L954.9 2203.3L961.5 2202L966.4 2204.3L967.4 2215.2L970.7 2215.8L971.3 2233L977.9 2233L984.5 2232.3L991.1 2231.7L999.4 2233L1004.3 2230.7L1010.9 2228.4L1017.5 2229.7L1024.1 2229L1027.4 2232.3L1034 2229L1037.3 2232.3L1043.9 2234L1050.5 2235L1053.8 2238.3L1055.4 2242.9L1060.4 2243.9L1063.7 2244.9L1070.3 2244.9L1076.9 2247.2L1083.5 2248.8L1090 2252.1L1091.7 2257.1L1096.6 2259.4L1099.9 2261.3L1101.6 2267.9L1109.8 2266.9L1116.4 2266.9L1121.4 2266.9L1123 2278.5L1126.3 2287.7L1132.9 2286.7L1139.5 2287.7L1146.1 2291L1152.7 2293.3L1156 2295.6L1162.6 2297.6L1169.2 2298.9L1175.8 2299.9L1179.1 2298.9L1182.4 2302.2L1189 2304.9L1190.6 2311.5L1198.9 2316.4L1202.2 2320.7L1208.7 2323L1215.3 2324.6L1218.6 2330.6L1225.2 2332.9L1231.8 2335.2L1238.4 2337.2L1245 2337.8L1248.3 2342.8L1251.6 2345.1L1258.2 2347.1L1268.1 2346.1L1274.7 2348.4L1281.3 2351L1287.9 2352.7L1291.2 2357L1301.1 2357L1314.3 2357L1320.9 2357.6L1327.4 2359.3L1334 2360.9L1340.6 2361.6L1348.9 2363.5L1350.5 2371.5L1355.5 2374.1L1363.7 2376.7L1367 2381.4L1373.6 2383.3L1383.5 2384L1390.1 2386.6L1396.7 2388.9L1403.3 2392.2L1409.9 2394.5L1416.5 2397.2L1423.1 2400.5L1429 2402.1L1429 2402.1L1435.6 2403.8L1445.5 2403.8L1447.1 2407.7L1452.1 2412L1458.7 2415.3L1465.3 2417L1471.9 2419.6L1483.4 2419.6L1485.1 2427.5L1490 2430.2L1494.9 2432.8L1501.5 2435.1L1508.1 2438.4L1509.8 2449.3L1514.7 2450.6L1518 2453.9L1521.3 2457.2L1527.9 2459.2L1534.5 2461.5L1541.1 2463.8L1547.7 2465.8L1554.3 2467.1L1560.9 2468.1L1570.8 2467.1L1574.1 2465.8L1580.7 2466.4L1587.3 2466.4L1593.9 2469.1L1600.5 2470.4L1605.4 2473L1610.3 2478L1613.6 2481.3L1620.2 2482.2L1626.8 2484.6L1630.1 2486.2L1635.1 2487.9L1640 2492.1L1645 2496.1L1646.6 2501L1653.2 2506L1656.5 2510.9L1663.1 2511.9L1669.7 2514.2L1674.6 2515.9L1679.6 2519.2L1684.5 2522.5L1689.5 2530.1L1691.1 2531.6L1694.4 2538.2L1694.4 2545.4L1699.4 2547.4L1706 2548.7L1712.6 2549.7L1719.2 2552L1724.1 2556.3L1732.3 2556.3L1737.3 2555.3L1738.9 2558L1742.2 2561.9L1748.8 2562.9L1758.7 2563.9L1765.3 2564.6L1771.9 2566.2L1775.2 2570.5L1778.5 2572.8L1785.1 2574.5L1791 2576.1L1791.7 2595.9L1798.3 2599.2L1804.9 2600.8L1811.5 2602.5L1814.8 2609.1L1816.4 2623.9L1821.4 2625.6L1824.7 2627.9L1829.6 2632.2L1834.6 2635.5L1837.9 2642.1L1844.4 2644.4L1851 2646.3L1857.6 2647.7L1860.9 2650.3L1864.2 2651.9L1870.8 2655.2L1874.1 2656.9L1875.8 2663.5L1877.4 2675L1890.6 2676L1893.9 2680L1897.2 2687.2L1897.9 2703L1903.8 2703L1912 2703L1913 2729.4L1917 2731.1L1918.6 2744.3L1921.9 2745.3L1923.6 2755.8L1931.8 2755.8L1932.8 2798.7M200 1930.5L203.3 1948.7L208.3 1938.8L213.3 1928.8L218.2 1919.7L223.2 1912.2L228.2 1904.8L233.2 1928.8L233.6 1948.7L237.3 1941.2L243.1 1933.8L249.7 1925.5L253.1 1919.7L258 1914.7L263 1908.9L269.6 1903.1L277.1 1895.7L282.1 1911.4L292 1903.1L297 1915.5L306.1 1908.9L314.4 1899.8L319.4 1898.1L320.2 1971.1M169.6 1807.4L169.6 1839.5L175.4 1842L175.4 1937L178.9 1922L189.9 1900L193 1887L194 1900L203.6 1949.4M320.2 1971.1L324.3 1979.8L331 1989.9L335.3 2003.4L336.1 2033.9L342.9 2025.4L349.6 2017L354.7 2018.7L355.5 2052.9L359.8 2046L368.4 2041.7L371.8 2044.3L378.7 2039.2L389 2035.7L394.1 2041.7L395 2039.2" stroke="#00BFBF" stroke-width="3.3" fill="none" stroke-linejoin="round" stroke-linecap="round"/>
<path d="M395 1941.3L401.6 1937L408.2 1933.7L409.8 1936.3L413.1 1938L414.1 1946.2L416.4 1956.1L418.1 1962.7L421.4 1971L428 1967.7L431.3 1969.3L436.2 1969.3L437.9 1972L444.5 1967.7L451.1 1963.4L456 1962.1L459.3 1966L464.2 1964.4L469.2 1966L472.5 1963.4L474.1 1967.7L479.1 1972.6L480.7 1979.2L487.3 1977.6L493.9 1975.3L498.9 1974.3L500.5 1982.5L503.8 1985.8L508.8 1984.2L513.7 1982.5L520.3 1979.9L525.2 1979.2L533.5 1980.9L536.8 1985.8L538.4 2000.6L543.4 1999L546.7 1997.3L550 1994L553.3 1998.3L561.5 1999L563.2 2011.5L569.8 2008.9L574.7 2006.2L579.6 2005.6L582.9 2008.2L589.5 2007.2L596.1 2008.9L597.8 2013.8L606 2015.5L612.6 2015.5L619.2 2013.8L625.8 2011.5L627.5 2015.5L630.7 2017.1L635.7 2018.8L639 2020.4L640.6 2028.7L645.6 2026L652.2 2025.4L658.8 2026L660.4 2032L668.7 2029.3L678.6 2028L688.5 2028.7L691.7 2031.3L698.3 2032L704.9 2032.6L711.5 2032L718.1 2030.3L724.7 2030.3L731.3 2031.3L737.9 2030.3L744.5 2030.3L751.1 2028.7L757.7 2027L759.3 2025.4L761 2032L767.6 2032L774.2 2035.3L780.8 2036.9L787.4 2038.6L790.7 2041.9L794 2043.5L800.6 2043.5L810.4 2042.5L815.4 2041.9L817 2046.8L823.6 2048.5L825.3 2055L833.5 2053.4L840.1 2054.4L850 2056.7L856.6 2057.7L863.2 2056.7L869.8 2055.7L876.4 2055L883 2054.4L891.2 2054.4L892.9 2070.9L899.5 2072.2L906.1 2074.8L912 2076.5L912 2075.5L918.6 2074.8L925.2 2074.2L935.1 2074.2L935.7 2084.1L945 2084.1L949.9 2085.4L953.2 2087.4L958.2 2088.7L964.8 2087.4L966.4 2097.9L969.7 2099.6L970.7 2112.7L977.9 2112.7L987.8 2112.7L997.7 2111.8L1007.6 2110.4L1017.5 2109.4L1027.4 2108.5L1037.3 2109.4L1043.9 2110.4L1052.1 2111.1L1055.4 2114.4L1060.4 2116L1067 2117.7L1073.6 2120.3L1080.2 2122.6L1086.8 2124.3L1093.3 2127.6L1099.9 2130.9L1101.6 2136.8L1109.8 2137.5L1116.4 2137.5L1121.4 2136.8L1122 2145.1L1123 2146.6L1126.3 2153.8L1132.9 2153.2L1139.5 2154.8L1146.1 2156.5L1152.7 2159.1L1156 2161.4L1162.6 2161.4L1169.2 2162.4L1175.8 2161.4L1179.1 2163.1L1185.7 2166.4L1189 2173L1195.6 2174.6L1202.2 2177.9L1208.7 2181.2L1215.3 2181.2L1218.6 2186.2L1223.6 2184.5L1228.5 2188.8L1235.1 2189.5L1241.7 2190.1L1248.3 2189.5L1249 2195.4L1254.9 2196.7L1261.5 2196.1L1268.1 2196.7L1274.7 2197.7L1281.3 2200L1287.9 2201L1294.5 2202L1307.7 2202L1317.6 2201L1327.4 2202.6L1334 2204.3L1340.6 2205.3L1348.9 2205.9L1350.5 2212.5L1357.1 2214.2L1363.7 2216.5L1367 2219.1L1373.6 2219.8L1383.5 2220.8L1393.4 2222.4L1403.3 2225.1L1413.2 2226.4L1421.4 2228.4L1429 2232.3L1429 2232.3L1435.6 2232.3L1443.8 2232.3L1445.5 2235.6L1452.1 2238.3L1462 2239.6L1468.6 2241.6L1475.2 2242.9L1483.4 2241.6L1485.1 2248.8L1491.6 2251.4L1498.2 2253.8L1503.2 2255.4L1508.1 2258L1509.8 2262.7L1518 2263.6L1519.7 2266.9L1524.6 2269.2L1531.2 2270.2L1537.8 2271.2L1547.7 2271.9L1554.3 2274.5L1560.9 2272.5L1567.5 2271.9L1577.4 2271.9L1587.3 2271.9L1593.9 2273.5L1600.5 2274.5L1605.4 2275.2L1608.7 2280.1L1613.6 2281.1L1620.2 2281.8L1626.8 2282.4L1633.4 2284.4L1638.4 2287.7L1643.3 2291L1646.6 2295.6L1653.2 2300.9L1659.8 2303.2L1664.7 2301.6L1666.4 2306.5L1673 2304.9L1679.6 2304.2L1682.9 2308.8L1686.2 2311.5L1692.8 2314.8L1694.4 2326.3L1702.7 2327.3L1712.6 2328.6L1719.2 2330.6L1729 2330.6L1738.9 2331.2L1745.5 2334.5L1758.7 2335.2L1765.3 2335.2L1767 2339.5L1771.9 2339.5L1775.2 2342.8L1781.8 2343.8L1791.7 2344.4L1792.4 2358.3L1798.3 2359.3L1804.9 2360.9L1811.5 2364.2L1816.4 2366.8L1818.1 2377.4L1823 2378.1L1826.3 2384.7L1831.3 2386.6L1839.5 2387.9L1841.1 2393.9L1851 2394.5L1857.6 2396.5L1860.9 2398.8L1867.5 2399.8L1874.1 2400.5L1877.4 2408.7L1879.1 2414.3L1884 2415.3L1890.6 2415.3L1893.9 2422.9L1897.2 2430.2L1898.9 2435.1L1903.8 2435.1L1912 2435.1M140.1 1760.9L168.8 1760.9L169.6 1807.4L171.3 1802.3L175.6 1797.3L175.6 1903.7L182.3 1883.4L189.1 1866.5L193.3 1853.9L203.4 1880.1L209.4 1869.9L214.4 1861.5L219.5 1854.7L223.7 1850.5L228 1842.9L233 1852.2L233.4 1875L239.8 1868.2L244.9 1863.2L251.6 1853L256.7 1848.8L263.4 1843.7L266.8 1842L277 1832.7L282 1855.6L292.2 1848L297.2 1857.2L302.3 1855.6L309.1 1853L314.1 1852.2L320.9 1850.5L320.9 1888.5L324.3 1891L331 1893.6L331.4 1904.6L335.3 1906.3L335.3 1931.6L342.9 1925.7L349.6 1919.8L350.5 1929.1L354.7 1924L355 1951L361.5 1944.3L368.2 1939.2L369.1 1949.4L378.4 1939.2L379.2 1946L388.5 1939.2L393.6 1939.2L400 1935.8M200 1868.3L203.3 1879.9L208.3 1871.6L212.4 1865L214.9 1860" stroke="#FFFF00" stroke-width="3.3" fill="none" stroke-linejoin="round" stroke-linecap="round"/>
<path d="M1912.8 2434.8L1913.4 2454L1918.5 2454L1918.5 2461.6" stroke="#000" stroke-width="1.1" fill="none"/>
</g>
<rect x="137.5" y="1759.5" width="2066" height="1299" fill="none" stroke="#000" stroke-width="1.3"/>
<g font-family="Liberation Sans, Arial, sans-serif" font-size="61.5" fill="#000"><text transform="translate(124.7 3118) scale(0.75 1)">0</text>
<text transform="translate(363.7 3118) scale(0.75 1)" clip-path="url(#k01)">0.1</text>
<text transform="translate(621.9 3118) scale(0.75 1)">0.2</text>
<text transform="translate(880.2 3118) scale(0.75 1)">0.3</text>
<text transform="translate(1138.4 3118) scale(0.75 1)">0.4</text>
<text transform="translate(1396.7 3118) scale(0.75 1)">0.5</text>
<text transform="translate(1654.9 3118) scale(0.75 1)">0.6</text>
<text transform="translate(1913.2 3118) scale(0.75 1)">0.7</text>
<text transform="translate(2171.4 3118) scale(0.75 1)">0.8</text>
<text transform="translate(105.3 3075.9) scale(0.75 1)">0</text>
<text transform="translate(66.9 2946) scale(0.75 1)" clip-path="url(#k01)">0.1</text>
<text transform="translate(66.9 2816.1) scale(0.75 1)">0.2</text>
<text transform="translate(66.9 2686.2) scale(0.75 1)">0.3</text>
<text transform="translate(66.9 2556.3) scale(0.75 1)">0.4</text>
<text transform="translate(66.9 2426.4) scale(0.75 1)">0.5</text>
<text transform="translate(66.9 2296.5) scale(0.75 1)">0.6</text>
<text transform="translate(66.9 2166.6) scale(0.75 1)">0.7</text>
<text transform="translate(66.9 2036.7) scale(0.75 1)">0.8</text>
<text transform="translate(66.9 1906.8) scale(0.75 1)">0.9</text>
<text transform="translate(105.3 1776.9) scale(0.75 1)" clip-path="url(#k1)">1</text></g>
<text font-family="Liberation Serif, Times New Roman, serif" font-weight="bold" font-size="56.5" transform="translate(1168.4 3181.8) scale(0.818 1)" text-anchor="middle">Recall</text>
<g font-family="Liberation Serif, Times New Roman, serif" font-weight="bold" font-size="58.5" transform="translate(58.3 2417.5) rotate(-90)"><text transform="translate(-101.4 0) scale(0.78 1)" text-anchor="middle">P</text><text transform="translate(-69.3 0) scale(0.78 1)" text-anchor="middle">r</text><text transform="translate(-42.3 0) scale(0.78 1)" text-anchor="middle">e</text><text transform="translate(-15.3 0) scale(0.78 1)" text-anchor="middle">c</text><text transform="translate(6.7 0) scale(0.78 1)" text-anchor="middle">i</text><text transform="translate(27 0) scale(0.78 1)" text-anchor="middle">s</text><text transform="translate(47.2 0) scale(0.78 1)" text-anchor="middle">i</text><text transform="translate(70.9 0) scale(0.78 1)" text-anchor="middle">o</text><text transform="translate(103 0) scale(0.78 1)" text-anchor="middle">n</text></g>
<g font-family="Liberation Sans, Arial, sans-serif" fill="#000"><rect x="153.8" y="2407.6" width="434.5" height="640.4" fill="#fff" stroke="#000" stroke-width="1.3"/>
<line x1="167" y1="2460.4" x2="233.3" y2="2460.4" stroke="#000000" stroke-width="4.2"/>
<text font-size="57.3" transform="translate(240.8 2468.6) scale(0.795 1)">Fast</text>
<text font-size="46.3" transform="translate(331.3 2500) scale(0.795 1)">VGG-16</text>
<line x1="167" y1="2563.1" x2="233.3" y2="2563.1" stroke="#FF0000" stroke-width="4.2"/>
<text font-size="57.3" transform="translate(240.8 2567.5) scale(0.795 1)">Cascaded</text>
<text font-size="46.3" transform="translate(446.6 2599.8) scale(0.795 1)">VGG-16</text>
<line x1="167" y1="2662.8" x2="233.3" y2="2662.8" stroke="#0000FF" stroke-width="4.2"/>
<text font-size="57.3" transform="translate(240.8 2671) scale(0.795 1)">Faster</text>
<text font-size="46.3" transform="translate(371.8 2701) scale(0.795 1)">VGG-16</text>
<line x1="167" y1="2764.9" x2="233.3" y2="2764.9" stroke="#FF00FF" stroke-width="4.2"/>
<text font-size="57.3" transform="translate(240.8 2772.8) scale(0.795 1)">Faster</text>
<text font-size="46.3" transform="translate(371.8 2804.2) scale(0.795 1)">Z&amp;F</text>
<line x1="167" y1="2854.1" x2="233.3" y2="2854.1" stroke="#FFD700" stroke-width="4.2"/>
<text font-size="57.3" transform="translate(240.8 2874.6) scale(0.795 1)">Our Model</text>
<line x1="167" y1="2928.3" x2="233.3" y2="2928.3" stroke="#00BFBF" stroke-width="4.2"/>
<text font-size="57.3" transform="translate(240.8 2950.3) scale(0.795 1)">SSD</text>
<line x1="167" y1="3003.7" x2="233.3" y2="3003.7" stroke="#FFFF00" stroke-width="4.2"/>
<text font-size="57.3" transform="translate(240.8 3025.1) scale(0.795 1)">Yolo V2</text></g>
<text x="1125.5" y="1617.2" font-family="Liberation Serif, Times New Roman, serif" font-size="80" text-anchor="middle">(a)</text>
<text x="1125" y="3322.3" font-family="Liberation Serif, Times New Roman, serif" font-size="80" text-anchor="middle">(b)</text>
</svg>
</body></html>
